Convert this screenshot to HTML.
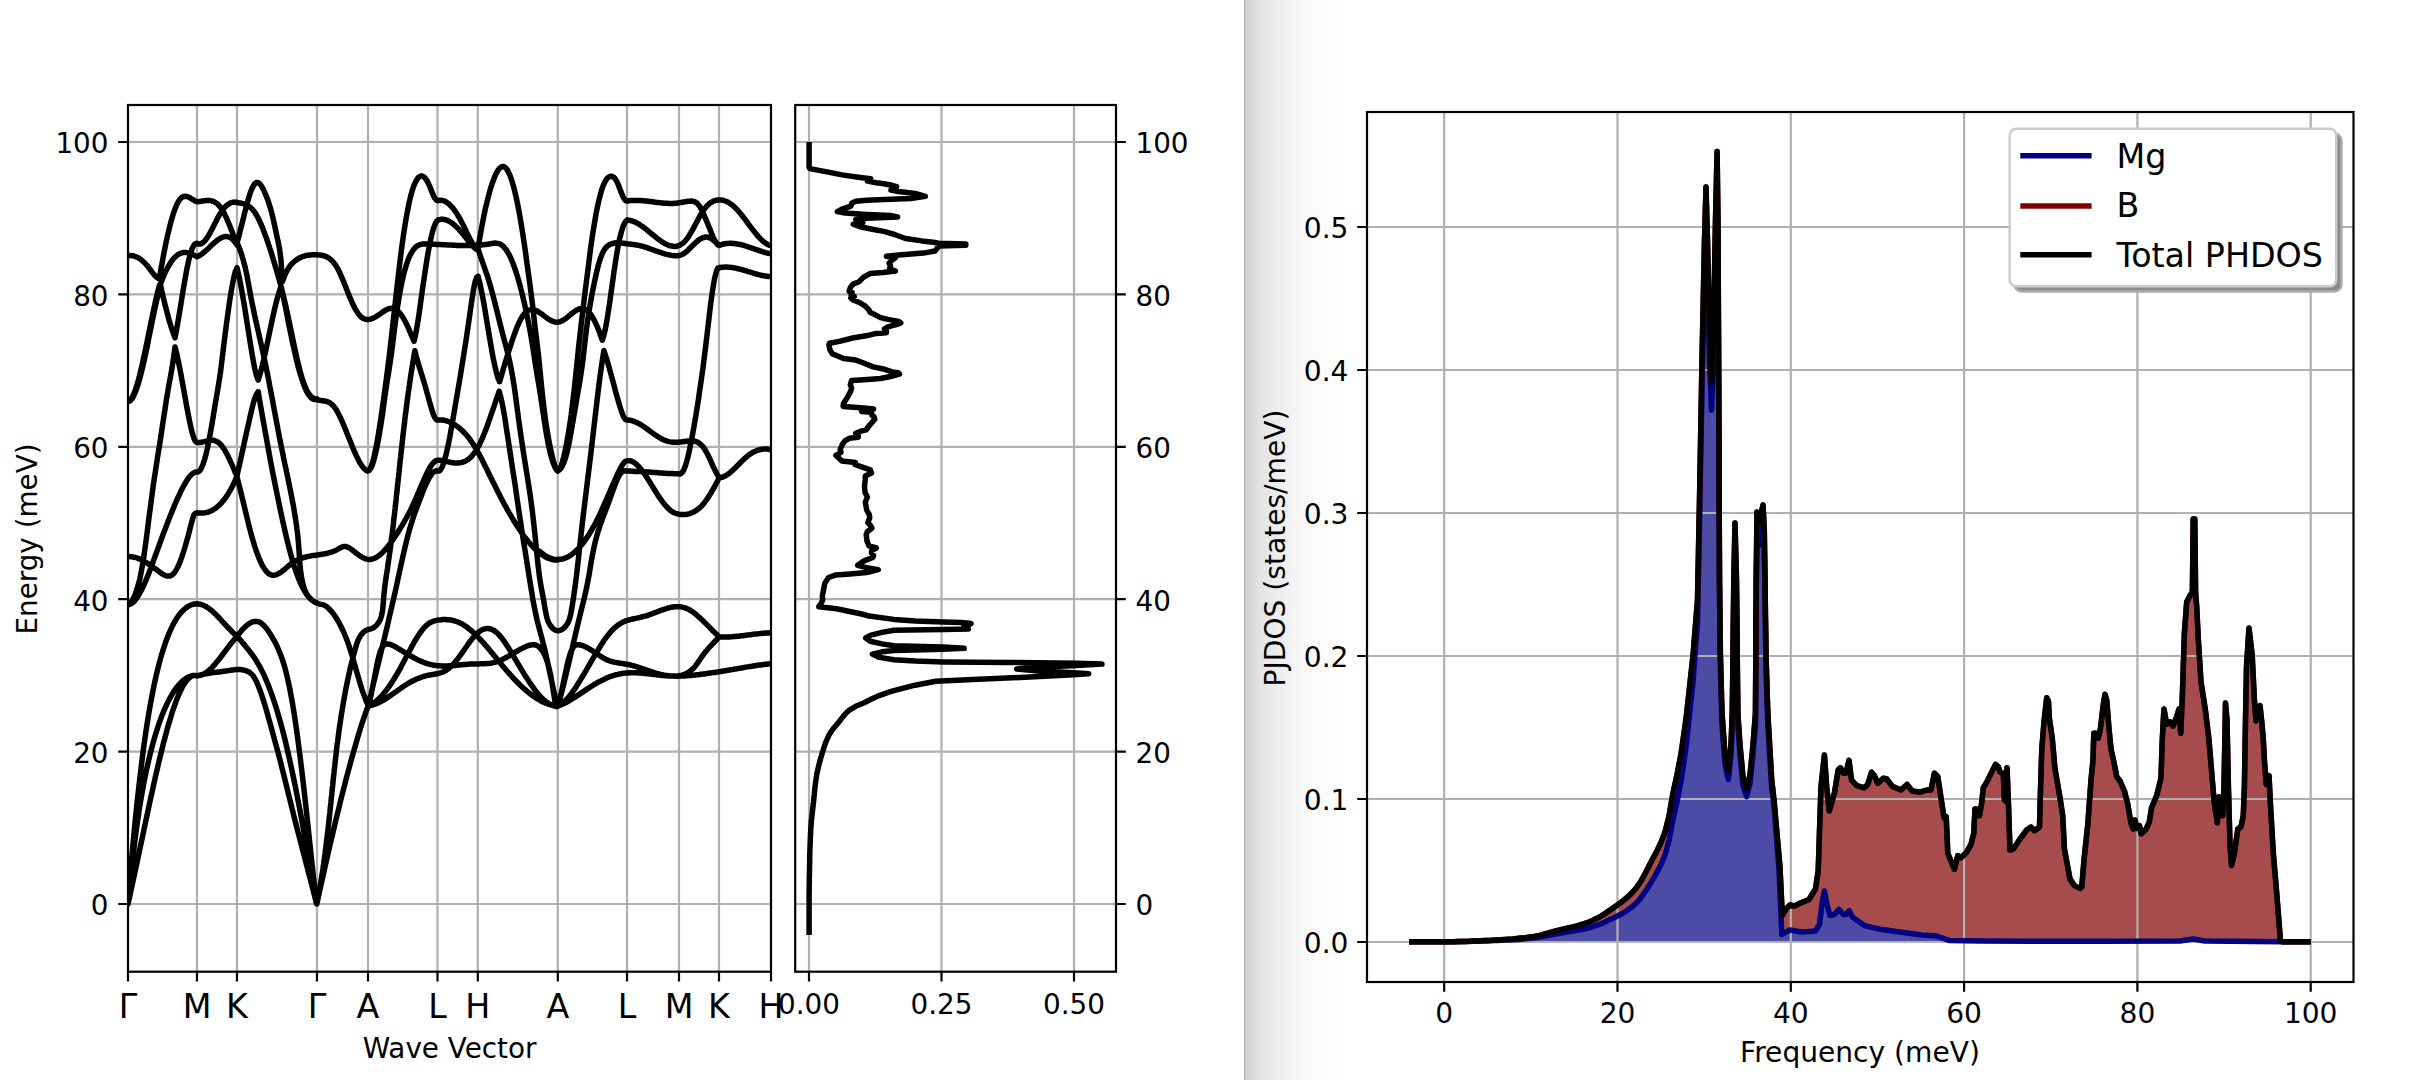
<!DOCTYPE html><html><head><meta charset="utf-8"><title>Phonon bands</title><style>html,body{margin:0;padding:0;background:#fff}body{width:2424px;height:1080px;overflow:hidden}</style></head><body><svg width="2424" height="1080" viewBox="0 0 2424 1080" style="display:block;font-family:'DejaVu Sans','Liberation Sans',sans-serif"><defs><linearGradient id="sh" x1="0" x2="1" y1="0" y2="0"><stop offset="0" stop-color="#9a9a9a"/><stop offset="0.012" stop-color="#cfcfcf"/><stop offset="0.15" stop-color="#e2e2e2"/><stop offset="0.32" stop-color="#ececec"/><stop offset="0.62" stop-color="#f8f8f8"/><stop offset="1" stop-color="#ffffff"/></linearGradient><clipPath id="cl"><rect x="128.0" y="105.0" width="643.0" height="866.7"/></clipPath><clipPath id="cr"><rect x="1367.0" y="112.0" width="986.5" height="870.0"/></clipPath></defs><rect width="2424" height="1080" fill="#fff"/><rect x="1244" y="0" width="97" height="1080" fill="url(#sh)"/><path d="M197,105.0V971.7M237,105.0V971.7M317,105.0V971.7M368,105.0V971.7M437.5,105.0V971.7M477.8,105.0V971.7M557.8,105.0V971.7M627,105.0V971.7M679,105.0V971.7M719,105.0V971.7M128.0,904H771.0M128.0,751.6H771.0M128.0,599.2H771.0M128.0,446.8H771.0M128.0,294.4H771.0M128.0,142H771.0" stroke="#b0b0b0" stroke-width="2.2" fill="none"/><g clip-path="url(#cl)"><path d="M128,255.8L129.5,255.6L131,255.6L132.5,255.7L133.9,256L135.4,256.5L136.9,257.1L138.4,257.9L139.9,258.8L141.4,259.9L142.8,261.2L144.3,262.6L145.8,264.1L147.3,265.8L148.8,267.7L150.3,269.7L151.7,271.7L153.2,273.6L154.7,275.4L156.2,276.9L157.7,278.1L159.2,278.8M159.2,278.8L160.6,270.9L162.1,263L163.5,255.3L165,247.8L166.4,240.8L167.9,234.1L169.4,228L170.8,222.3L172.3,217.1L173.7,212.5L175.2,208.5L176.6,205L178.1,202.1L179.5,199.8L181,198.1L182.4,197L183.9,196.4L185.4,196.3L186.8,196.5L188.3,197L189.7,197.7L191.2,198.6L192.6,199.5L194.1,200.3L195.5,201.1L197,201.7M197,201.7L198.5,201.6L200,201.4L201.4,201.2L202.9,201L204.4,200.8L205.9,200.6L207.4,200.5L208.9,200.5L210.3,200.6L211.8,200.9L213.3,201.4L214.8,202.1L216.3,203L217.7,204.2L219.2,205.7L220.7,207.5L222.2,209.7L223.7,212.3L225.1,215.2L226.6,218.4L228.1,221.8L229.6,225.4L231.1,229.2L232.6,233.1L234,237L235.5,241L237,245M127.9,401.2L129.3,400.8L130.8,399.5L132.2,397.3L133.6,394.3L135.1,390.7L136.5,386.4L138,381.5L139.4,376.1L140.8,370.3L142.3,364.2L143.7,357.7L145.2,350.9L146.6,344L148,337L149.5,329.9L150.9,322.9L152.4,315.9L153.8,309.1L155.2,302.5L156.7,296.2L158.1,290.3L159.6,284.7M160,285.3L161.5,281.3L163,277.6L164.4,274.2L165.9,271L167.4,268.1L168.9,265.4L170.4,263L171.8,260.8L173.3,258.9L174.8,257.3L176.3,255.9L177.8,254.8L179.2,253.9L180.7,253.2L182.2,252.8L183.7,252.6L185.2,252.5L186.6,252.6L188.1,252.9L189.6,253.3L191.1,253.8L192.6,254.4L194,255.1L195.5,255.9L197,256.7M197,256.7L198.5,256L200,255.2L201.4,254.3L202.9,253.2L204.4,252L205.9,250.7L207.4,249.3L208.9,247.9L210.3,246.5L211.8,245.1L213.3,243.7L214.8,242.4L216.3,241.1L217.7,240L219.2,239L220.7,238.1L222.2,237.4L223.7,236.9L225.1,236.6L226.6,236.6L228.1,236.8L229.6,237.3L231.1,238.1L232.6,239.3L234,240.8L235.5,242.7L237,245M127.9,401.2L129.4,401.1L130.9,400.1L132.4,398.2L133.8,395.6L135.3,392.2L136.8,388.1L138.3,383.4L139.8,378.2L141.3,372.5L142.8,366.3L144.3,359.8L145.8,353L147.3,345.9L148.7,338.6L150.2,331.2L151.7,323.8L153.2,316.5L154.7,309.4L156.2,302.5L157.7,295.9L159.2,290L160.7,285.3M160.8,286.7L162.2,293L163.7,299.1L165.1,304.9L166.5,310.5L167.9,315.8L169.3,320.9L170.8,325.7L172.2,330.1L173.6,334.2L175,337.8M175,337.8L176.5,330.3L177.9,322L179.4,313.3L180.9,304.3L182.3,295.3L183.8,286.4L185.3,277.8L186.7,269.9L188.2,262.7L189.7,256.4L191.1,251.4L192.6,247.6L194.1,245L195.5,243.6L197,243.3M197,243.3L198.5,244L200,244L201.4,243.6L202.9,242.6L204.4,241.3L205.9,239.5L207.4,237.4L208.9,235L210.3,232.4L211.8,229.6L213.3,226.7L214.8,223.7L216.3,220.8L217.7,217.9L219.2,215.2L220.7,212.8L222.2,210.6L223.7,208.6L225.1,206.9L226.6,205.5L228.1,204.3L229.6,203.4L231.1,202.7L232.6,202.3L234,202.1L235.5,202.2L237,202.5M128.1,604.6L129.6,603.8L131.1,602.3L132.5,600.1L134,597.2L135.5,593.6L136.9,589.3L138.4,584.4L139.9,578.6L141.3,571.5L142.8,563L144.3,553.5L145.7,543.1L147.2,532.1L148.6,520.7L150.1,509.3L151.6,498L153,487.3L154.5,477.2L156,467.6L157.4,458.2L158.9,449L160.4,439.6L161.8,430L163.3,420.2L164.8,410.5L166.2,401L167.7,392.1L169.1,383.9L170.6,375.9L172.1,367.6L173.5,358.1L175,347M175,347L176.5,352.7L177.9,359.2L179.4,366.4L180.9,374L182.3,382L183.8,390.2L185.3,398.4L186.7,406.5L188.2,414.3L189.7,421.7L191.1,428.4L192.6,434.2L194.1,438.7L195.5,441.5L197,442.5M197,442.5L198.5,442.6L200,442.5L201.4,442.2L202.9,441.9L204.4,441.6L205.9,441.2L207.4,440.8L208.8,440.5L210.3,440.3L211.8,440.3L213.3,440.3L214.7,440.6L216.2,441.2L217.7,442L219.2,443.1L220.7,444.5L222.1,446.3L223.6,448.4L225.1,450.8L226.6,453.5L228.1,456.3L229.5,459.4L231,462.6L232.5,466L234,469.4L235.4,473L236.9,476.5M128.1,604.6L129.6,604.4L131.1,603.8L132.6,602.8L134.1,601.4L135.6,599.6L137.1,597.6L138.6,595.2L140.1,592.6L141.6,589.7L143.1,586.6L144.6,583.3L146.1,579.8L147.6,576.2L149.1,572.4L150.6,568.5L152.1,564.5L153.6,560.4L155.1,556.3L156.6,552.2L158.1,548.1L159.6,544L161.1,539.9L162.6,535.8L164.1,531.8L165.6,527.9L167.1,523.9L168.6,520.1L170.1,516.3L171.6,512.5L173.1,508.9L174.5,505.3L176,501.9L177.5,498.5L179,495.3L180.5,492.1L182,489.1L183.5,486.3L185,483.6L186.5,481L188,478.8L189.5,476.7L191,475L192.5,473.7L194,472.7L195.5,472.1L197,472M197,472L198.5,471.8L200,470.4L201.4,468L202.9,464.5L204.4,460.1L205.9,454.7L207.4,448.4L208.8,441.3L210.3,433.4L211.8,425L213.3,416.1L214.7,407.2L216.2,398.4L217.7,389.7L219.2,380.6L220.7,370.5L222.1,359L223.6,346.7L225.1,334.6L226.6,323L228.1,312L229.5,301.8L231,292.4L232.5,283.9L234,276.7L235.4,271.3L236.9,268.6M128.1,556.6L129.6,556.6L131.1,556.7L132.6,556.9L134.1,557.2L135.6,557.5L137.1,558L138.6,558.6L140.1,559.2L141.6,560L143.1,560.7L144.6,561.6L146.1,562.5L147.6,563.4L149.1,564.4L150.6,565.4L152.1,566.5L153.6,567.6L155.1,568.7L156.6,569.8L158.1,570.9L159.6,572L161.1,573.1L162.6,574.1L164.1,574.9L165.6,575.6L167.1,576L168.6,576.1L170.1,575.9L171.6,575.2L173.1,574.1L174.5,572.5L176,570.3L177.5,567.5L179,564.3L180.5,560.5L182,556.4L183.5,551.8L185,547L186.5,541.8L188,536.4L189.5,530.7L191,524.9L192.5,519.2L194,514.8L195.5,513.3L197,512.8M197,512.8L198.5,513L200,513.1L201.4,513.1L202.9,513L204.4,512.9L205.9,512.6L207.4,512.3L208.8,511.8L210.3,511.2L211.8,510.6L213.3,509.7L214.7,508.8L216.2,507.7L217.7,506.5L219.2,505.2L220.7,503.7L222.1,502.1L223.6,500.3L225.1,498.4L226.6,496.2L228.1,494L229.5,491.5L231,488.9L232.5,486.1L234,483.1L235.4,479.9L236.9,476.5M128,904L129.5,884.9L131,866.8L132.5,849.6L134,833.3L135.5,818L137,803.4L138.5,789.7L140,776.7L141.5,764.5L142.9,752.9L144.4,742L145.9,731.7L147.4,722L148.9,712.9L150.4,704.3L151.9,696.2L153.4,688.6L154.9,681.4L156.4,674.7L157.9,668.5L159.4,662.6L160.9,657.1L162.4,652L163.9,647.3L165.4,642.8L166.9,638.7L168.4,634.9L169.9,631.4L171.4,628.2L172.8,625.1L174.3,622.4L175.8,619.8L177.3,617.5L178.8,615.4L180.3,613.4L181.8,611.7L183.3,610.2L184.8,608.8L186.3,607.6L187.8,606.6L189.3,605.7L190.8,605L192.3,604.5L193.8,604.1L195.3,603.9L196.8,603.8L198.3,603.9L199.8,604.2L201.3,604.5L202.7,605L204.2,605.7L205.7,606.4L207.2,607.3L208.7,608.4L210.2,609.5L211.7,610.7L213.2,612L214.7,613.4L216.2,614.9L217.7,616.5L219.2,618L220.7,619.6L222.2,621.3L223.7,622.9L225.2,624.5L226.7,626.2L228.2,627.8L229.7,629.3L231.2,630.8L232.6,632.3L234.1,633.7L235.6,635L237.1,636.2M128,904L129.5,888.9L130.9,874.8L132.4,861.5L133.9,849L135.3,837.3L136.8,826.4L138.3,816.2L139.7,806.6L141.2,797.7L142.7,789.3L144.1,781.5L145.6,774.1L147.1,767.2L148.6,760.7L150,754.6L151.5,748.8L153,743.3L154.4,738.1L155.9,733.2L157.4,728.5L158.8,724.1L160.3,720L161.8,716.1L163.2,712.4L164.7,708.9L166.2,705.6L167.6,702.6L169.1,699.7L170.6,697L172,694.5L173.5,692.1L175,689.9L176.4,687.8L177.9,685.9L179.4,684.2L180.9,682.6L182.3,681.2L183.8,680L185.3,678.9L186.7,677.9L188.2,677.1L189.7,676.5L191.1,676L192.6,675.6L194.1,675.5L195.5,675.4L197,675.5M197,675.5L198.5,675.6L200,675.4L201.5,675L202.9,674.4L204.4,673.6L205.9,672.7L207.4,671.6L208.9,670.4L210.4,669.1L211.9,667.6L213.4,666L214.8,664.4L216.3,662.6L217.8,660.8L219.3,658.9L220.8,657L222.3,655L223.8,653L225.2,651.1L226.7,649.1L228.2,647.1L229.7,645.1L231.2,643.2L232.7,641.4L234.2,639.6L235.6,637.8L237.1,636.2M128,904L129.5,897.4L130.9,890.8L132.4,884L133.9,877.2L135.3,870.4L136.8,863.5L138.3,856.5L139.7,849.6L141.2,842.6L142.7,835.7L144.1,828.7L145.6,821.8L147.1,814.9L148.6,808L150,801.2L151.5,794.4L153,787.8L154.4,781.2L155.9,774.7L157.4,768.3L158.8,762.1L160.3,756L161.8,750L163.2,744.2L164.7,738.5L166.2,733L167.6,727.7L169.1,722.6L170.6,717.7L172,713L173.5,708.5L175,704.3L176.4,700.4L177.9,696.7L179.4,693.2L180.9,690.1L182.3,687.2L183.8,684.7L185.3,682.4L186.7,680.5L188.2,678.8L189.7,677.5L191.1,676.5L192.6,675.8L194.1,675.5L195.5,675.6L197,675.9M197,675.9L198.5,675.5L200,675.1L201.5,674.7L203,674.3L204.5,674L206,673.7L207.5,673.5L209,673.2L210.4,673L211.9,672.8L213.4,672.6L214.9,672.4L216.4,672.2L217.9,672L219.4,671.9L220.9,671.7L222.4,671.5L223.9,671.3L225.4,671.1L226.9,670.9L228.4,670.6L229.9,670.4L231.4,670.1L232.9,669.9L234.3,669.8L235.8,669.6L237.3,669.6L238.8,669.5L240.3,669.6L241.8,669.8L243.3,670L244.8,670.4L246.3,670.8L247.8,671.5L249.3,672.3L250.8,673.4L252.3,674.9L253.8,676.8L255.3,679.3L256.8,682.3L258.2,685.7L259.7,689.5L261.2,693.6L262.7,698.1L264.2,702.8L265.7,707.8L267.2,713L268.7,718.4L270.2,723.8L271.7,729.3L273.2,734.8L274.7,740.2L276.2,745.7L277.7,751.3L279.2,756.9L280.7,762.6L282.1,768.4L283.6,774.3L285.1,780.3L286.6,786.4L288.1,792.5L289.6,798.6L291.1,804.7L292.6,810.7L294.1,816.8L295.6,822.7L297.1,828.6L298.6,834.4L300.1,840.1L301.6,845.8L303.1,851.5L304.6,857.2L306,862.8L307.5,868.5L309,874.2L310.5,879.9L312,885.7L313.5,891.6L315,897.5L316.5,903.5M237.2,202.5L238.7,202.8L240.2,203L241.7,203.3L243.2,203.7L244.7,204.1L246.2,204.7L247.7,205.5L249.2,206.4L250.7,207.6L252.2,209.1L253.7,210.9L255.2,213L256.7,215.5L258.2,218.2L259.7,221.3L261.2,224.7L262.7,228.3L264.2,232.2L265.7,236.2L267.2,240.5L268.7,244.9L270.2,249.5L271.7,254.2L273.2,259.1L274.7,264.1L276.2,269.2L277.7,274.4L279.2,279.8L280.7,285.4L282.2,291.2L283.7,297.2L285.2,303.5L286.7,310.1L288.2,317.1L289.7,324.2L291.2,331.4L292.7,338.6L294.2,345.7L295.7,352.6L297.2,359.3L298.7,365.6L300.2,371.5L301.7,376.8L303.2,381.5L304.7,385.7L306.2,389.2L307.7,392L309.2,394.2L310.7,396L312.2,397.3L313.7,398.3L315.2,399.1L316.7,399.6L318.2,400L319.7,400.3L321.2,400.5L322.7,400.7L324.2,400.9L325.7,401.2L327.2,401.6L328.7,402.2L330.2,403.1L331.7,404.2L333.2,405.7L334.7,407.5L336.2,409.7L337.7,412.3L339.2,415.2L340.7,418.3L342.2,421.6L343.7,425.1L345.2,428.7L346.7,432.5L348.2,436.2L349.7,440L351.2,443.8L352.7,447.5L354.2,451L355.7,454.4L357.2,457.6L358.7,460.6L360.2,463.3L361.7,465.6L363.2,467.6L364.7,469.2L366.2,470.4L367.7,471M237.2,242.2L238.7,236.8L240.1,231.1L241.6,225.3L243.1,219.3L244.5,213.4L246,207.7L247.4,202.2L248.9,197.2L250.3,192.7L251.8,188.9L253.3,185.9L254.7,183.7L256.2,182.6L257.6,182.5L259.1,183.3L260.6,184.8L262,187L263.5,189.7L264.9,192.9L266.4,196.4L267.9,200.2L269.3,204.6L270.8,209.4L272.2,214.9L273.7,221.1L275.1,227.9L276.6,234.9L278.1,241.7L279.5,248.6L281,260.1L282.4,281.6M282.4,281.6L283.9,277.5L285.4,273.9L286.9,270.8L288.4,268.3L289.9,266.1L291.4,264.3L292.9,262.8L294.4,261.4L295.9,260.3L297.4,259.2L298.9,258.3L300.4,257.6L301.9,256.9L303.4,256.3L304.9,255.9L306.4,255.5L307.9,255.2L309.4,255L310.8,254.9L312.3,254.8L313.8,254.7L315.3,254.7L316.8,254.8L318.3,254.9L319.8,255L321.3,255.2L322.8,255.5L324.3,255.9L325.8,256.5L327.3,257.2L328.8,258.1L330.3,259.2L331.8,260.6L333.3,262.2L334.8,264.1L336.3,266.3L337.8,268.8L339.3,271.7L340.7,274.8L342.2,278.3L343.7,281.9L345.2,285.6L346.7,289.4L348.2,293.2L349.7,296.9L351.2,300.4L352.7,303.8L354.2,306.9L355.7,309.7L357.2,312.2L358.7,314.3L360.2,316L361.7,317.4L363.2,318.4L364.7,319.1L366.2,319.4L367.7,319.5L369.2,319.4L370.6,319.1L372.1,318.6L373.6,317.9L375.1,317.1L376.6,316.2L378.1,315.3L379.6,314.2L381.1,313.2L382.6,312.1L384.1,311.1L385.6,310.2L387.1,309.4L388.6,308.8L390.1,308.4L391.6,308.3L393.1,308.4L394.6,308.9L396.1,309.6L397.6,310.7L399.1,312.2L400.5,313.9L402,316L403.5,318.4L405,321.1L406.5,324L408,327.2L409.5,330.6L411,334.2L412.5,337.7L414,341.3M237,242.5L238,244.9L239,247.3L239.9,249.8L240.8,252.2L241.6,254.6L242.3,257L243.1,259.5L243.7,261.9L244.4,264.3L245,266.7L245.5,269.2L246.1,271.6L246.6,274L247.1,276.4L247.5,278.9L248,281.3L248.5,283.7L248.9,286.1L249.3,288.6L249.8,291L250.2,293.4L250.7,295.8L251.1,298.2L251.6,300.7L252.1,303.1L252.6,305.5L253.1,307.9L253.6,310.4L254.1,312.8L254.6,315.2L255.1,317.7L255.7,320.1L256.2,322.5L256.8,324.9L257.3,327.4L257.9,329.8L258.4,332.2L259,334.6L259.5,337.1L260.1,339.5L260.6,341.9L261.2,344.4L261.7,346.8L262.2,349.2L262.8,351.7L263.3,354.1L263.8,356.5L264.4,359L264.9,361.4L265.4,363.8L265.9,366.3L266.4,368.7L266.9,371.1L267.4,373.6L267.9,376L268.3,378.4L268.8,380.9L269.3,383.3L269.7,385.8L270.2,388.2L270.7,390.6L271.1,393.1L271.6,395.5L272.1,398L272.5,400.4L273,402.9L273.4,405.3L273.9,407.8L274.3,410.2L274.8,412.6L275.3,415.1L275.7,417.5L276.2,420L276.6,422.4L277.1,424.9L277.6,427.4L278,429.8L278.5,432.3L279,434.7L279.4,437.2L279.9,439.6L280.4,442.1L280.9,444.6L281.4,447L281.9,449.5L282.4,451.9L282.9,454.4L283.4,456.9L283.9,459.3L284.4,461.8L284.9,464.3L285.5,466.7L286,469.2L286.5,471.7L287,474.2L287.6,476.6L288.1,479.1L288.6,481.6L289.1,484.1L289.6,486.5L290.1,489L290.6,491.5L291.1,494L291.6,496.5L292.1,499L292.5,501.4L293,503.9L293.5,506.4L293.9,508.9L294.3,511.4L294.7,513.9L295.1,516.4L295.5,518.9L295.9,521.4L296.3,523.9L296.6,526.4L296.9,528.9L297.3,531.4L297.6,533.9L297.8,536.4L298.1,538.9L298.3,541.4L298.5,543.9L298.7,546.5L298.9,549L299.1,551.5L299.2,554L299.4,556.5L299.6,559L299.7,561.5L299.9,563.9L300.1,566.4L300.4,568.8L300.6,571.2L301,573.6L301.3,576L301.7,578.3L302.2,580.6L302.7,582.9L303.2,585.1L303.9,587.3L304.6,589.5L305.5,591.6L306.6,593.7L307.9,595.7L309.6,597.7L311.6,599.7L314,601.5L316.6,603L319,603.8L321.3,604.4L323.5,604.9L325.5,605.9L327.4,607.3L329.2,609L330.9,610.8L332.5,612.7L334.1,614.8L335.5,616.9L336.9,619L338.2,621.2L339.4,623.5L340.6,625.7L341.7,628L342.8,630.2L343.8,632.5L344.8,634.8L345.8,637.2L346.7,639.5L347.6,641.8L348.4,644.2L349.2,646.5L350,648.9L350.8,651.3L351.5,653.6L352.2,656L352.9,658.4L353.6,660.8L354.3,663.2L355,665.6L355.7,668L356.3,670.4L357,672.8L357.7,675.2L358.4,677.6L359.1,680L359.8,682.4L360.5,684.8L361.3,687.2L362,689.5L362.8,691.9L363.7,694.3L364.5,696.6L365.4,698.9L366.3,701.3L367.3,703.6L368.3,705.9M237,267.7L238.4,273.3L239.8,279.9L241.2,287.4L242.6,295.4L244.1,304L245.5,312.8L246.9,321.7L248.3,330.6L249.7,339.4L251.1,348.1L252.5,356.5L253.9,364.3L255.3,371.1L256.8,376.4L258.2,380M258.2,380L259.7,375.3L261.2,369.9L262.7,364L264.2,357.6L265.7,350.8L267.2,343.7L268.7,336.5L270.2,329.3L271.7,322.2L273.2,315.3L274.7,308.7L276.2,302.5L277.7,296.8L279.2,291.8L280.7,287.5M281.3,287.1L282.8,294.3L284.3,301.6L285.8,309L287.3,316.5L288.7,323.9L290.2,331.2L291.7,338.4L293.2,345.3L294.7,352.1L296.1,358.5L297.6,364.5L299.1,370.1L300.6,375.2L302.1,379.9L303.6,384.1L305,387.9L306.5,391.1L308,393.8L309.5,396L311,397.7L312.4,398.8L313.9,399.4L315.4,399.4L316.9,398.9M236.9,476.5L238.3,469.9L239.8,463.4L241.2,456.9L242.6,450.4L244,444L245.4,437.6L246.8,431.2L248.3,424.8L249.7,418.4L251.1,412.2L252.5,406.4L253.9,401.2L255.3,396.9L256.8,393.7L258.2,391.8M258.2,391.8L259.7,400.6L261.2,409.3L262.7,417.9L264.2,426.3L265.7,434.6L267.2,442.8L268.7,450.9L270.1,458.8L271.6,466.7L273.1,474.4L274.6,482L276.1,489.4L277.6,496.8L279.1,504L280.6,511.2L282.1,518.1L283.6,524.9L285.1,531.6L286.6,538L288.1,544.1L289.6,550L291.1,555.6L292.6,560.9L294.1,565.9L295.6,570.5L297.1,574.7L298.6,578.7L300.1,582.3L301.6,585.6L303.1,588.5L304.6,591.2L306.1,593.6L307.6,595.7L309.1,597.5L310.6,599L312.1,600.3L313.6,601.3L315.1,602.1L316.6,602.6M236.9,476.5L238.4,482.4L239.9,488.4L241.4,494.5L242.9,500.7L244.4,506.9L245.9,513.1L247.4,519.2L248.8,525.1L250.3,530.9L251.8,536.4L253.3,541.6L254.8,546.5L256.3,551L257.8,555.1L259.3,558.9L260.8,562.3L262.2,565.2L263.7,567.8L265.2,570L266.7,571.8L268.2,573.2L269.7,574.3L271.2,574.9L272.7,575.2L274.2,575.2L275.6,574.9L277.1,574.4L278.6,573.6L280.1,572.7L281.6,571.7L283.1,570.5L284.6,569.3L286.1,568L287.6,566.7L289,565.5L290.5,564.3L292,563.2L293.5,562.2L295,561.3L296.5,560.4L298,559.7L299.5,559.1L301,558.5L302.5,557.9L303.9,557.5L305.4,557.1L306.9,556.7L308.4,556.4L309.9,556.1L311.4,555.8L312.9,555.6L314.4,555.4L315.9,555.2L317.3,555L318.8,554.8L320.3,554.5L321.8,554.3L323.3,554.1L324.8,553.8L326.3,553.5L327.8,553.1L329.3,552.7L330.7,552.3L332.2,551.8L333.7,551.2L335.2,550.6L336.7,549.9L338.2,549.1L339.7,548.3L341.2,547.4L342.7,546.8L344.1,546.4L345.6,546.5L347.1,546.9L348.6,547.6L350.1,548.5L351.6,549.5L353.1,550.7L354.6,551.8L356.1,553L357.6,554.1L359,555.2L360.5,556.2L362,557.1L363.5,557.9L365,558.6L366.5,559.1L368,559.4L369.5,559.5L371,559.4L372.4,559L373.9,558.5L375.4,557.9L376.9,557L378.4,556L379.9,554.9L381.4,553.6L382.9,552.2L384.4,550.6L385.8,548.9L387.3,547.2L388.8,545.3L390.3,543.3L391.8,541.3L393.3,539.1L394.8,536.9L396.3,534.7L397.8,532.4L399.2,530L400.7,527.6L402.2,525.2L403.7,522.6L405.2,520L406.7,517.4L408.2,514.6L409.7,511.7L411.2,508.8L412.6,505.7L414.1,502.5L415.6,499.1L417.1,495.7L418.6,492.2L420.1,488.6L421.6,485L423.1,481.5L424.6,478.1L426.1,474.9L427.5,471.8L429,469L430.5,466.5L432,464.3L433.5,462.6L435,461.3L436.5,460.5L438,460.2M237.1,636.2L238.6,638L240.1,639.8L241.6,641.6L243.1,643.4L244.6,645.1L246.1,646.9L247.6,648.7L249.1,650.6L250.6,652.6L252.1,654.6L253.6,656.7L255.1,658.9L256.6,661.3L258.1,663.8L259.6,666.4L261.1,669.2L262.6,672.2L264.1,675.4L265.6,678.8L267.1,682.3L268.6,686.1L270.1,690L271.6,694.1L273.1,698.4L274.6,702.9L276.1,707.6L277.6,712.5L279.1,717.6L280.6,722.9L282.1,728.4L283.6,734.2L285.1,740.1L286.5,746.2L288,752.6L289.5,759.2L291,766L292.5,772.9L294,780.1L295.5,787.4L297,795L298.5,802.7L300,810.6L301.5,818.6L303,826.9L304.5,835.3L306,843.8L307.5,852.5L309,861.3L310.5,870.2L312,879L313.5,887.5L315,895.7L316.5,903.5M237.1,636.2L238.6,634.2L240.1,632.4L241.6,630.6L243.1,628.9L244.6,627.4L246.1,626L247.6,624.7L249.1,623.7L250.6,622.8L252.1,622.1L253.6,621.6L255.1,621.4L256.6,621.4L258.1,621.7L259.6,622.2L261.1,623.1L262.6,624.2L264.1,625.7L265.6,627.4L267.1,629.3L268.6,631.5L270.1,633.8L271.6,636.2L273.1,638.8L274.6,641.4L276.1,644.3L277.6,647.5L279.1,650.9L280.6,654.7L282.1,658.9L283.6,663.4L285.1,668.5L286.5,674.1L288,680.4L289.5,687.4L291,695.1L292.5,703.5L294,712.7L295.5,722.6L297,733.1L298.5,744.3L300,755.9L301.5,768.2L303,780.8L304.5,794L306,807.5L307.5,821.4L309,835.5L310.5,849.7L312,863.7L313.5,877.5L315,890.8L316.5,903.5M316.8,904L317.3,901.5L317.8,899L318.3,896.5L318.7,894L319.2,891.5L319.6,889L320.1,886.5L320.5,884L320.9,881.5L321.3,879L321.7,876.5L322.1,874L322.5,871.6L322.9,869.1L323.2,866.6L323.6,864.1L323.9,861.6L324.3,859.2L324.6,856.7L325,854.2L325.3,851.7L325.6,849.3L325.9,846.8L326.2,844.3L326.5,841.8L326.8,839.4L327.1,836.9L327.4,834.4L327.7,832L328,829.5L328.3,827.1L328.5,824.6L328.8,822.1L329.1,819.7L329.3,817.2L329.6,814.7L329.9,812.3L330.1,809.8L330.4,807.4L330.6,804.9L330.9,802.5L331.1,800L331.4,797.5L331.7,795.1L331.9,792.6L332.2,790.2L332.4,787.7L332.7,785.3L332.9,782.8L333.2,780.4L333.4,777.9L333.7,775.5L334,773L334.2,770.5L334.5,768.1L334.8,765.6L335,763.2L335.3,760.7L335.6,758.3L335.9,755.8L336.2,753.4L336.4,750.9L336.7,748.5L337,746L337.3,743.5L337.7,741.1L338,738.6L338.3,736.2L338.6,733.7L339,731.3L339.3,728.8L339.6,726.3L340,723.9L340.4,721.4L340.7,719L341.1,716.5L341.5,714L341.9,711.6L342.3,709.1L342.7,706.6L343.1,704.2L343.5,701.7L344,699.2L344.4,696.8L344.9,694.3L345.3,691.8L345.8,689.4L346.3,686.9L346.8,684.4L347.3,681.9L347.8,679.4L348.4,677L348.9,674.5L349.5,672L350,669.5L350.6,667L351.2,664.5L351.8,662.1L352.4,659.6L353.1,657.1L353.7,654.6L354.4,652.1L355.1,649.6L355.8,647.1L356.5,644.7L357.3,642.3L358.2,640L359.3,637.9L360.4,635.9L361.7,634.1L363.2,632.5L364.8,631.2L366.7,630.1L368.8,629.4L371.1,628.8L373.4,627.8L375.6,626.1L377.5,624L379.2,621.7L380.4,619.3L381.2,616.9L381.8,614.5L382.3,612.2L382.6,609.8L382.9,607.4L383.1,605L383.3,602.6L383.5,600.2L383.7,597.7L383.9,595.3L384.1,592.9L384.4,590.5L384.6,588L384.9,585.6L385.3,583.2L385.6,580.7L386,578.3L386.3,575.8L386.7,573.4L387.1,570.9L387.5,568.4L387.8,566L388.2,563.5L388.5,561.1L388.9,558.6L389.2,556.1L389.6,553.6L389.9,551.1L390.3,548.7L390.6,546.2L390.9,543.7L391.2,541.2L391.5,538.7L391.8,536.2L392.2,533.7L392.5,531.3L392.8,528.8L393.1,526.3L393.4,523.8L393.6,521.3L393.9,518.8L394.2,516.3L394.5,513.8L394.8,511.3L395.1,508.8L395.3,506.3L395.6,503.8L395.9,501.3L396.2,498.8L396.4,496.3L396.7,493.9L397,491.4L397.2,488.9L397.5,486.4L397.8,483.9L398,481.4L398.3,478.9L398.6,476.5L398.8,474L399.1,471.5L399.3,469L399.6,466.5L399.9,464.1L400.1,461.6L400.4,459.1L400.7,456.6L400.9,454.2L401.2,451.7L401.5,449.2L401.7,446.8L402,444.3L402.3,441.8L402.6,439.4L402.8,436.9L403.1,434.4L403.4,432L403.7,429.5L404,427L404.3,424.6L404.6,422.1L404.8,419.7L405.1,417.2L405.4,414.7L405.8,412.3L406.1,409.8L406.4,407.4L406.7,404.9L407,402.4L407.3,400L407.7,397.5L408,395L408.3,392.6L408.7,390.1L409,387.7L409.4,385.2L409.7,382.7L410.1,380.3L410.5,377.8L410.8,375.3L411.2,372.9L411.6,370.4L412,368L412.4,365.5L412.8,363L413.2,360.5L413.6,358.1L414,355.6L414.5,353.1L414.9,350.7M414.9,350.7L416.3,356.5L417.8,361.8L419.2,366.7L420.7,371.3L422.1,375.8L423.5,380.5L425,385.4L426.4,390.6L427.9,395.8L429.3,401L430.8,406.1L432.2,410.9L433.6,415L435.1,418.1L436.5,419.9L438,420.1M438,420.1L439.5,420L441,419.9L442.5,420L444,420.3L445.5,420.6L446.9,421L448.4,421.5L449.9,422.1L451.4,422.8L452.9,423.6L454.4,424.5L455.9,425.5L457.4,426.6L458.9,427.7L460.4,429L461.9,430.3L463.4,431.8L464.9,433.3L466.4,435L467.9,436.8L469.4,438.7L470.9,440.8L472.4,443L473.9,445.3L475.4,447.7L476.9,450.3L478.4,452.9L479.9,455.7L481.4,458.6L482.9,461.5L484.4,464.5L485.9,467.6L487.4,470.6L488.9,473.7L490.4,476.8L491.9,479.8L493.4,482.8L494.9,485.8L496.4,488.8L497.9,491.7L499.4,494.7L500.8,497.5L502.3,500.4L503.8,503.2L505.3,505.9L506.8,508.6L508.3,511.3L509.8,513.9L511.3,516.5L512.8,519L514.3,521.5L515.8,523.9L517.3,526.3L518.8,528.5L520.3,530.8L521.8,532.9L523.3,535.1L524.8,537.1L526.3,539L527.8,540.9L529.3,542.8L530.8,544.5L532.3,546.1L533.8,547.7L535.3,549.2L536.8,550.6L538.3,551.9L539.8,553.2L541.3,554.3L542.8,555.3L544.3,556.3L545.8,557.1L547.3,557.9L548.8,558.5L550.3,559L551.8,559.5L553.3,559.8L554.8,560L556.2,560.1L557.7,560M316.8,904L318.3,897.3L319.7,890.6L321.2,883.9L322.7,877.3L324.2,870.7L325.6,864.2L327.1,857.7L328.6,851.2L330,844.9L331.5,838.5L333,832.3L334.5,826L335.9,819.9L337.4,813.8L338.9,807.8L340.3,801.8L341.8,795.9L343.3,790.1L344.8,784.4L346.2,778.7L347.7,773.1L349.2,767.6L350.6,762.2L352.1,756.8L353.6,751.6L355.1,746.4L356.5,741.4L358,736.4L359.5,731.5L360.9,726.8L362.4,722.2L363.9,717.8L365.4,713.5L366.8,709.6L368.3,705.9M367.7,471L369.2,470L370.7,467.4L372.2,463.5L373.7,458.2L375.1,451.8L376.6,444.4L378.1,436L379.6,426.8L381.1,417L382.6,406.5L384.1,395.7L385.6,384.5L387.1,373L388.6,361.3L390.1,349L391.5,336.2L393,323L394.5,309.6L396,296.1L397.5,282.8L399,269.8L400.5,257.3L402,245.7L403.5,234.9L405,225.1L406.5,216.3L408,208.4L409.4,201.4L410.9,195.3L412.4,190.1L413.9,185.7L415.4,182.2L416.9,179.5L418.4,177.5L419.9,176.3L421.4,175.9L422.9,176.2L424.4,177.2L425.8,178.9L427.3,181.3L428.8,184.3L430.3,187.9L431.8,191.6L433.3,195.2L434.8,198.2L436.3,200.2L437.8,200.7M437.8,200.7L439.3,200.3L440.8,200.2L442.3,200.4L443.8,200.8L445.2,201.4L446.7,202.3L448.2,203.4L449.7,204.7L451.2,206.2L452.7,207.9L454.2,209.9L455.7,212L457.2,214.3L458.7,216.7L460.2,219.4L461.7,222.2L463.2,225.1L464.7,228.1L466.1,231.2L467.6,234.3L469.1,237.3L470.6,240.2L472.1,242.9L473.6,245.3L475.1,247.3L476.6,249L478.1,250.2M367.7,471L369.2,470.4L370.7,468.4L372.2,465.1L373.7,460.6L375.2,454.9L376.7,448.2L378.2,440.5L379.7,432L381.2,422.7L382.7,412.8L384.1,402.3L385.6,391.7L387.1,381.6L388.6,372.3L390.1,362.9L391.6,352.3L393.1,340.4L394.6,328.2L396.1,316.7L397.6,306.3L399.1,297L400.6,288.7L402.1,281.4L403.6,274.9L405.1,269.1L406.6,264.2L408.1,259.9L409.6,256.3L411.1,253.3L412.6,250.8L414.1,248.8L415.6,247.2L417.1,246L418.6,245.2L420.1,244.6L421.6,244.2L423.1,244L424.6,243.9L426.1,243.9L427.5,244L429,244L430.5,244.1L432,244.1L433.5,244.2L435,244.3L436.5,244.4L438,244.4L439.5,244.5L441,244.6L442.5,244.7L444,244.7L445.5,244.8L447,244.9L448.5,245L450,245L451.5,245.1L453,245.2L454.5,245.2L456,245.3L457.5,245.4L459,245.4L460.5,245.4L462,245.5L463.5,245.5L465,245.5L466.5,245.5L468,245.5L469.4,245.5L470.9,245.5L472.4,245.5L473.9,245.4L475.4,245.3L476.9,245.3L478.4,245.2L479.9,245.1L481.4,244.9L482.9,244.8L484.4,244.6L485.9,244.4L487.4,244.2L488.9,244L490.4,243.7L491.9,243.5L493.4,243.2L494.9,243.1L496.4,243.2L497.9,243.4L499.4,243.8L500.9,244.5L502.4,245.6L503.9,246.9L505.4,248.7L506.9,250.8L508.4,253.3L509.9,256.2L511.4,259.4L512.8,263L514.3,267L515.8,271.3L517.3,276L518.8,281.1L520.3,286.6L521.8,292.4L523.3,298.5L524.8,305.1L526.3,312L527.8,319.2L529.3,326.9L530.8,335.1L532.3,344.1L533.8,353.8L535.3,363.6L536.8,373L538.3,381.9L539.8,390.8L541.3,400.5L542.8,410.7L544.3,420.9L545.8,430.4L547.3,439.1L548.8,446.7L550.3,453.2L551.8,458.8L553.3,463.3L554.8,466.9L556.2,469.5L557.7,471M414,341.3L415.4,335.6L416.8,328L418.3,319L419.7,309.3L421.1,299.2L422.5,289.1L424,279.2L425.4,269.6L426.8,260.5L428.2,252L429.7,244.3L431.1,237.5L432.5,231.7L433.9,227L435.4,223.5L436.8,221.1L438.2,220M438.2,220L439.7,219.6L441.2,219.3L442.7,219.3L444.1,219.5L445.6,219.8L447.1,220.3L448.6,221L450,221.8L451.5,222.8L453,223.9L454.5,225.1L455.9,226.4L457.4,227.9L458.9,229.4L460.4,231.1L461.9,232.8L463.3,234.6L464.8,236.4L466.3,238.3L467.8,240.2L469.2,242.1L470.7,243.9L472.2,245.5L473.7,247L475.1,248.4L476.6,249.4L478.1,250.2M438,460.2L439.5,460.3L440.9,460.5L442.4,460.7L443.9,461L445.4,461.3L446.9,461.6L448.4,461.9L449.9,462.2L451.4,462.5L452.9,462.7L454.4,462.9L455.9,463L457.3,463L458.8,462.9L460.3,462.8L461.8,462.4L463.3,462L464.8,461.4L466.3,460.6L467.8,459.7L469.3,458.5L470.8,457.2L472.2,455.6L473.7,453.8L475.2,451.7L476.7,449.4L478.2,446.8L479.7,443.9L481.2,440.8L482.7,437.4L484.2,433.8L485.7,430L487.2,426L488.6,421.9L490.1,417.7L491.6,413.4L493.1,409L494.6,404.6L496.1,400.2L497.6,395.8L499.1,391.4M499.1,391.4L500.5,396.1L502,402.5L503.5,410.2L505,418.9L506.4,428.3L507.9,438.1L509.4,447.9L510.9,457.5L512.3,467L513.8,476.5L515.3,486.2L516.7,496.2L518.2,506.3L519.7,516.3L521.2,526.2L522.6,535.6L524.1,544.8L525.6,553.9L527,563L528.5,572.3L530,581.8L531.5,591L532.9,599.8L534.4,607.6L535.9,614.6L537.3,620.9L538.8,626.8L540.3,632.4L541.8,637.9L543.2,643.6L544.7,649.5L546.2,655.7L547.6,662.4L549.1,669.3L550.6,676.3L552.1,683.2L553.5,689.8L555,695.9L556.5,701.4L557.9,706.1M368.3,705.9L369.8,699.4L371.3,693.1L372.7,686.7L374.2,680.5L375.7,674.3L377.2,668.1L378.7,661.9L380.2,655.8L381.6,649.6L383.1,643.4L384.6,637.3L386.1,631L387.6,624.8L389,618.5L390.5,612.2L392,605.7L393.5,599.2L395,592.7L396.5,586L397.9,579.2L399.4,572.3L400.9,565.4L402.4,558.6L403.9,552L405.4,545.7L406.8,539.7L408.3,534L409.8,528.6L411.3,523.6L412.8,519L414.2,514.6L415.7,510.5L417.2,506.5L418.7,502.6L420.2,498.7L421.7,494.9L423.1,491.1L424.6,487.5L426.1,484.1L427.6,481L429.1,478.1L430.6,475.7L432,473.7L433.5,472.1L435,471.1L436.5,470.8L438,471M438,471L439.5,470.9L440.9,469.3L442.4,466.4L443.9,462.3L445.4,457.1L446.9,451L448.4,444.1L449.9,436.5L451.3,428.4L452.8,419.9L454.3,411.2L455.8,402.4L457.3,393.6L458.8,384.9L460.3,376.1L461.7,367.2L463.2,358.1L464.7,348.8L466.2,339.1L467.7,329.1L469.2,318.6L470.7,307.9L472.2,297.8L473.6,288.8L475.1,281.9L476.6,277.5L478.1,276.3M478,276.4L479.5,281.7L480.9,288.1L482.3,295.2L483.8,303L485.2,311.3L486.6,319.9L488.1,328.7L489.5,337.3L491,345.8L492.4,353.8L493.8,361.2L495.3,367.9L496.7,373.7L498.1,378.3L499.6,381.7M499.6,381.7L501.1,376.8L502.5,371.8L504,366.8L505.5,361.9L507,356.9L508.5,352L510,347.3L511.5,342.7L513,338.2L514.5,334L515.9,330L517.4,326.3L518.9,322.9L520.4,319.8L521.9,317.1L523.4,314.9L524.9,313L526.4,311.6L527.9,310.6L529.4,309.9L530.8,309.6L532.3,309.6L533.8,309.8L535.3,310.3L536.8,310.9L538.3,311.7L539.8,312.7L541.3,313.7L542.8,314.8L544.2,316L545.7,317.1L547.2,318.2L548.7,319.2L550.2,320.1L551.7,320.9L553.2,321.5L554.7,321.9L556.2,322.2L557.7,322.2L559.1,321.9L560.6,321.5L562.1,320.8L563.6,319.9L565.1,319L566.6,317.9L568.1,316.7L569.6,315.4L571.1,314.2L572.5,313L574,311.8L575.5,310.8L577,309.9L578.5,309.2L580,308.7L581.5,308.5L583,308.6L584.5,309L585.9,309.7L587.4,310.8L588.9,312.3L590.4,314.1L591.9,316.2L593.4,318.7L594.9,321.6L596.4,324.8L597.9,328.2L599.4,332L600.8,336L602.3,340.2M368.3,705.9L369.8,700.6L371.3,694L372.8,686.5L374.3,678.5L375.8,670.5L377.3,662.9L378.8,656.4L380.2,651.5L381.7,648.2L383.2,645.9L384.7,644.6L386.2,644L387.7,643.9L389.2,644.2L390.7,644.6L392.2,645.2L393.7,645.9L395.2,646.7L396.7,647.6L398.2,648.5L399.7,649.4L401.2,650.3L402.6,651.2L404.1,652.1L405.6,653L407.1,653.9L408.6,654.7L410.1,655.6L411.6,656.5L413.1,657.3L414.6,658.1L416.1,658.9L417.6,659.7L419.1,660.4L420.6,661.1L422.1,661.7L423.5,662.3L425,662.9L426.5,663.4L428,663.9L429.5,664.3L431,664.6L432.5,664.9L434,665.2L435.5,665.4L437,665.6L438.5,665.7L440,665.8L441.5,665.9L443,665.9L444.5,665.9L445.9,665.9L447.4,665.9L448.9,665.8L450.4,665.7L451.9,665.6L453.4,665.5L454.9,665.4L456.4,665.2L457.9,665.1L459.4,665L460.9,664.8L462.4,664.7L463.9,664.5L465.4,664.4L466.9,664.3L468.3,664.2L469.8,664.1L471.3,664L472.8,663.9L474.3,663.9L475.8,663.9L477.3,663.9L478.8,663.9L480.3,663.8L481.8,663.8L483.3,663.8L484.8,663.7L486.3,663.6L487.8,663.5L489.3,663.4L490.7,663.2L492.2,662.9L493.7,662.6L495.2,662.2L496.7,661.8L498.2,661.3L499.7,660.7L501.2,660.1L502.7,659.3L504.2,658.6L505.7,657.8L507.2,657L508.7,656.1L510.2,655.2L511.7,654.4L513.1,653.5L514.6,652.6L516.1,651.7L517.6,650.8L519.1,650L520.6,649.1L522.1,648.4L523.6,647.6L525.1,646.9L526.6,646.3L528.1,645.7L529.6,645.2L531.1,644.9L532.6,644.7L534.1,644.7L535.5,645L537,645.6L538.5,646.5L540,647.9L541.5,649.6L543,651.8L544.5,654.6L546,658.1L547.5,662.5L549,667.9L550.5,674.6L552,682.8L553.5,692.3L555,701.2L556.5,706.7L557.9,706.1M368.3,705.9L369.8,705.3L371.3,704.5L372.8,703.6L374.3,702.6L375.8,701.5L377.3,700.2L378.8,698.9L380.2,697.4L381.7,695.8L383.2,694.1L384.7,692.3L386.2,690.4L387.7,688.4L389.2,686.3L390.7,684.1L392.2,681.8L393.7,679.5L395.2,677L396.7,674.5L398.2,672L399.7,669.3L401.2,666.6L402.6,663.8L404.1,661L405.6,658.2L407.1,655.3L408.6,652.5L410.1,649.7L411.6,646.9L413.1,644.2L414.6,641.5L416.1,639L417.6,636.6L419.1,634.3L420.6,632.1L422.1,630.1L423.5,628.3L425,626.7L426.5,625.3L428,624L429.5,623L431,622.2L432.5,621.5L434,621L435.5,620.6L437,620.3L438.5,620.1L440,619.9L441.5,619.7L443,619.6L444.5,619.6L445.9,619.6L447.4,619.7L448.9,619.8L450.4,620L451.9,620.2L453.4,620.6L454.9,621L456.4,621.5L457.9,622L459.4,622.7L460.9,623.4L462.4,624.2L463.9,625.1L465.4,626.1L466.9,627.1L468.3,628.3L469.8,629.5L471.3,630.7L472.8,632.1L474.3,633.4L475.8,634.9L477.3,636.4L478.8,637.9L480.3,639.5L481.8,641.1L483.3,642.7L484.8,644.4L486.3,646.1L487.8,647.9L489.3,649.6L490.7,651.4L492.2,653.2L493.7,655L495.2,656.8L496.7,658.7L498.2,660.5L499.7,662.3L501.2,664.1L502.7,665.9L504.2,667.7L505.7,669.4L507.2,671.2L508.7,672.9L510.2,674.6L511.7,676.2L513.1,677.9L514.6,679.5L516.1,681L517.6,682.5L519.1,684L520.6,685.5L522.1,686.9L523.6,688.3L525.1,689.6L526.6,690.9L528.1,692.1L529.6,693.3L531.1,694.5L532.6,695.6L534.1,696.6L535.5,697.6L537,698.6L538.5,699.5L540,700.4L541.5,701.2L543,701.9L544.5,702.6L546,703.2L547.5,703.8L549,704.3L550.5,704.8L552,705.2L553.5,705.5L555,705.7L556.5,705.9L557.9,706.1M368.3,705.9L369.8,705.7L371.3,705.4L372.8,705L374.3,704.5L375.8,704L377.3,703.3L378.8,702.7L380.2,701.9L381.7,701.1L383.2,700.3L384.7,699.4L386.2,698.4L387.7,697.4L389.2,696.4L390.7,695.4L392.2,694.4L393.7,693.3L395.2,692.2L396.7,691.2L398.2,690.1L399.7,689L401.2,688L402.6,687L404.1,686L405.6,685L407.1,684.1L408.6,683.2L410.1,682.3L411.6,681.5L413.1,680.7L414.6,680L416.1,679.3L417.6,678.7L419.1,678.1L420.6,677.5L422.1,677L423.5,676.5L425,676.1L426.5,675.7L428,675.3L429.5,675L431,674.8L432.5,674.5L434,674.3L435.5,674L437,673.7L438.5,673.4L440,673L441.5,672.5L443,671.9L444.5,671.2L445.9,670.4L447.4,669.4L448.9,668.3L450.4,667L451.9,665.6L453.4,664L454.9,662.3L456.4,660.5L457.9,658.6L459.4,656.5L460.9,654.5L462.4,652.4L463.9,650.2L465.4,648.1L466.9,646L468.3,643.9L469.8,641.8L471.3,639.9L472.8,638L474.3,636.3L475.8,634.7L477.3,633.2L478.8,632L480.3,630.9L481.8,630L483.3,629.4L484.8,628.9L486.3,628.6L487.8,628.5L489.3,628.7L490.7,629L492.2,629.6L493.7,630.4L495.2,631.4L496.7,632.6L498.2,634L499.7,635.6L501.2,637.4L502.7,639.3L504.2,641.4L505.7,643.6L507.2,645.9L508.7,648.2L510.2,650.6L511.7,653.1L513.1,655.6L514.6,658.1L516.1,660.7L517.6,663.2L519.1,665.7L520.6,668.2L522.1,670.6L523.6,673.1L525.1,675.5L526.6,677.8L528.1,680.1L529.6,682.4L531.1,684.6L532.6,686.7L534.1,688.8L535.5,690.8L537,692.6L538.5,694.4L540,696.1L541.5,697.7L543,699.2L544.5,700.5L546,701.7L547.5,702.8L549,703.7L550.5,704.5L552,705.2L553.5,705.7L555,706L556.5,706.1L557.9,706.1M478,248.4L479.5,239.5L481,231L482.5,223.1L483.9,215.7L485.4,208.7L486.9,202.3L488.4,196.4L489.8,191L491.3,186.1L492.8,181.7L494.3,177.8L495.7,174.4L497.2,171.6L498.7,169.3L500.2,167.7L501.7,166.7L503.1,166.4L504.6,167L506.1,168.3L507.6,170.4L509,173.2L510.5,176.8L512,181.2L513.5,186.2L514.9,192L516.4,198.4L517.9,205.6L519.4,213.4L520.8,221.8L522.3,230.9L523.8,240.6L525.3,250.8L526.7,261.3L528.2,272L529.7,282.9L531.2,294.3L532.7,306.3L534.1,318.9L535.6,331.4L537.1,343.8L538.6,356.6L540,370.6L541.5,386L543,400.1L544.5,412.4L545.9,423L547.4,432.3L548.9,440.7L550.4,448.2L551.8,454.8L553.3,460.7L554.8,465.6L556.3,469.2L557.7,471M557.9,471L559.4,469.9L560.8,466.9L562.3,462.3L563.8,456.7L565.3,450.1L566.7,442.7L568.2,434.4L569.7,425.1L571.2,414.8L572.6,403.3L574.1,390.5L575.6,376.6L577.1,362.3L578.5,348.2L580,334.7L581.5,321.7L583,309.4L584.4,297.5L585.9,285.7L587.4,273.8L588.9,262L590.3,250.7L591.8,240L593.3,230.2L594.8,221.2L596.2,213L597.7,205.6L599.2,199.1L600.7,193.4L602.1,188.6L603.6,184.6L605.1,181.5L606.6,179.1L608,177.5L609.5,176.6L611,176.3L612.5,176.5L613.9,177.4L615.4,179.1L616.9,181.6L618.4,185L619.8,188.8L621.3,192.7L622.8,196.2L624.3,199.1L625.7,200.8L627.2,201.1M627.2,200.9L628.7,200.7L630.2,200.6L631.6,200.5L633.1,200.4L634.6,200.4L636.1,200.4L637.6,200.4L639.1,200.5L640.6,200.6L642,200.7L643.5,200.8L645,200.9L646.5,201.1L648,201.3L649.5,201.5L650.9,201.6L652.4,201.8L653.9,202L655.4,202.2L656.9,202.4L658.4,202.6L659.9,202.7L661.3,202.9L662.8,203L664.3,203.2L665.8,203.3L667.3,203.3L668.8,203.4L670.3,203.4L671.7,203.4L673.2,203.4L674.7,203.3L676.2,203.2L677.7,203L679.2,202.8L680.7,202.6L682.1,202.3L683.6,202L685.1,201.8L686.6,201.5L688.1,201.3L689.6,201.2L691,201.1L692.5,201.2L694,201.5L695.5,202.1L697,203.1L698.5,204.8L700,206.9L701.4,209.5L702.9,212.5L704.4,215.8L705.9,219.3L707.4,223L708.9,226.7L710.4,230.4L711.8,234.1L713.3,237.6L714.8,240.7L716.3,243.2L717.8,244.8L719.3,245.3M478,248.4L479.5,253.3L481,257.8L482.5,262.2L484,266.4L485.5,270.7L487,275L488.5,279.7L490,284.6L491.5,289.9L493,295.5L494.5,301.4L496,307.3L497.5,313.4L499,319.5L500.5,325.5L502,331.4L503.5,337.1L505,342.7L506.5,348.3L508,354.2L509.5,360.6L511,367.8L512.5,375.9L514,385.1L515.5,395.7L517,407.2L518.5,418.5L520,429.3L521.5,439.6L523,449.6L524.5,459.2L526,468.5L527.5,477.7L529,487.2L530.5,497.3L532,508.4L533.5,521L535,535.2L536.5,550.2L538,564.5L539.5,577L541,586.4L542.5,594.1L544,602.6L545.5,611.4L547,618.2L548.5,622.4L550,625L551.5,627L552.9,628.5L554.4,629.6L555.9,630.4L557.4,630.7L558.9,630.7L560.4,630.3L561.9,629.6L563.4,628.5L564.9,627L566.4,625.2L567.9,622.9L569.4,619.3L570.9,613.3L572.4,604.8L573.9,594.8L575.4,584.2L576.9,572.2L578.4,558.9L579.9,545L581.4,531.4L582.9,518.4L584.4,506L585.9,493.8L587.4,481.7L588.9,469.5L590.4,457.1L591.9,444.6L593.4,431.8L594.9,418.9L596.4,406L597.9,393.5L599.4,381.4L600.9,370.1L602.4,359.8L603.9,350.7M603.9,350.7L605.3,354.9L606.8,359.5L608.3,364.4L609.7,369.6L611.2,374.9L612.6,380.3L614.1,385.8L615.5,391.2L617,396.5L618.5,401.6L619.9,406.5L621.4,411L622.8,414.9L624.3,417.9L625.7,419.7L627.2,420.1M627.2,420.1L628.7,420.1L630.2,420.3L631.6,420.6L633.1,421L634.6,421.6L636.1,422.2L637.6,422.9L639.1,423.7L640.6,424.6L642,425.5L643.5,426.5L645,427.5L646.5,428.6L648,429.6L649.5,430.7L650.9,431.8L652.4,432.9L653.9,434L655.4,435L656.9,436L658.4,437L659.9,437.9L661.3,438.7L662.8,439.5L664.3,440.1L665.8,440.7L667.3,441.2L668.8,441.6L670.3,441.9L671.7,442.1L673.2,442.2L674.7,442.2L676.2,442.2L677.7,442.2L679.2,442.1L680.7,441.9L682.1,441.8L683.6,441.6L685.1,441.4L686.6,441.2L688.1,441L689.6,440.9L691,440.8L692.5,440.9L694,441L695.5,441.4L697,441.9L698.5,442.7L700,443.7L701.4,445.1L702.9,446.7L704.4,448.8L705.9,451.2L707.4,454L708.9,457L710.4,460.2L711.8,463.5L713.3,466.8L714.8,469.9L716.3,472.9L717.8,475.5L719.3,477.7M719.3,477.7L720.7,477.5L722.2,477.2L723.7,476.6L725.2,475.9L726.7,475L728.2,474L729.7,472.8L731.1,471.6L732.6,470.3L734.1,468.9L735.6,467.5L737.1,466L738.6,464.5L740,463L741.5,461.6L743,460.1L744.5,458.7L746,457.4L747.5,456.1L748.9,454.9L750.4,453.9L751.9,452.9L753.4,452.1L754.9,451.4L756.4,450.7L757.9,450.2L759.3,449.8L760.8,449.5L762.3,449.3L763.8,449.1L765.3,449.1L766.8,449.1L768.2,449.2L769.7,449.4L771.2,449.6M557.9,471L559.4,469.9L560.9,468.2L562.4,465.8L563.9,462.5L565.4,458.2L566.9,452.7L568.4,446.2L569.9,438.9L571.3,430.8L572.8,422.3L574.3,413.5L575.8,404.6L577.3,395.9L578.8,387.3L580.3,378.4L581.8,368.4L583.3,356.6L584.8,343.2L586.3,330.2L587.8,319.1L589.3,309.5L590.8,300.9L592.3,292.8L593.8,285.2L595.3,278.1L596.7,271.7L598.2,265.8L599.7,260.6L601.2,256.2L602.7,252.6L604.2,249.8L605.7,247.7L607.2,246.2L608.7,245.2L610.2,244.4L611.7,243.8L613.2,243.3L614.7,243L616.2,242.8L617.7,242.8L619.2,242.8L620.7,242.9L622.1,243.1L623.6,243.3L625.1,243.5L626.6,243.7L628.1,243.9L629.6,244.1L631.1,244.3L632.6,244.5L634.1,244.6L635.6,244.9L637.1,245.1L638.6,245.4L640.1,245.7L641.6,246.1L643.1,246.5L644.6,246.9L646.1,247.4L647.5,247.9L649,248.4L650.5,249L652,249.5L653.5,250L655,250.6L656.5,251.1L658,251.7L659.5,252.2L661,252.7L662.5,253.2L664,253.6L665.5,254.1L667,254.4L668.5,254.8L670,255.1L671.5,255.4L672.9,255.6L674.4,255.7L675.9,255.7L677.4,255.7L678.9,255.5L680.4,255.1L681.9,254.6L683.4,253.8L684.9,252.9L686.4,251.7L687.9,250.3L689.4,248.8L690.9,247.3L692.4,245.8L693.9,244.3L695.4,242.9L696.9,241.6L698.3,240.4L699.8,239.4L701.3,238.5L702.8,237.8L704.3,237.3L705.8,237.1L707.3,237.1L708.8,237.5L710.3,238.1L711.8,239L713.3,240.2L714.8,241.5L716.3,242.8L717.8,244.2L719.3,245.3M719.3,245.3L720.7,244.8L722.2,244.3L723.7,244L725.2,243.7L726.7,243.5L728.2,243.4L729.7,243.3L731.1,243.3L732.6,243.4L734.1,243.5L735.6,243.7L737.1,243.9L738.6,244.2L740,244.5L741.5,244.8L743,245.2L744.5,245.7L746,246.1L747.5,246.6L748.9,247.1L750.4,247.6L751.9,248.1L753.4,248.6L754.9,249.2L756.4,249.7L757.9,250.2L759.3,250.7L760.8,251.2L762.3,251.7L763.8,252.1L765.3,252.6L766.8,252.9L768.2,253.3L769.7,253.6L771.2,253.9M602.3,340.2L603.8,335.6L605.3,329.2L606.7,321.4L608.2,312.4L609.7,302.6L611.1,292.3L612.6,281.8L614,271.5L615.5,261.6L617,252.5L618.4,244.4L619.9,237.5L621.4,231.8L622.8,227.2L624.3,223.7L625.8,221.3L627.2,220M627.2,220.3L628.7,220.3L630.2,220.5L631.6,220.8L633.1,221.3L634.6,221.9L636.1,222.6L637.6,223.4L639.1,224.2L640.5,225.2L642,226.2L643.5,227.3L645,228.4L646.5,229.6L648,230.8L649.5,232L650.9,233.3L652.4,234.5L653.9,235.7L655.4,236.9L656.9,238.1L658.4,239.2L659.9,240.3L661.3,241.4L662.8,242.3L664.3,243.2L665.8,244L667.3,244.7L668.8,245.3L670.2,245.8L671.7,246.1L673.2,246.3L674.7,246.4L676.2,246.3L677.7,246L679.2,245.5L680.6,244.8L682.1,243.8L683.6,242.6L685.1,241.1L686.6,239.3L688.1,237.3L689.5,235L691,232.5L692.5,229.9L694,227.1L695.5,224.3L697,221.5L698.5,218.7L699.9,216L701.4,213.4L702.9,211.1L704.4,209L705.9,207.1L707.4,205.5L708.8,204.1L710.3,202.9L711.8,202L713.3,201.2L714.8,200.6L716.3,200.2L717.8,200L719.2,199.9L720.7,199.9L722.2,200.1L723.7,200.5L725.2,201L726.7,201.6L728.2,202.3L729.6,203.2L731.1,204.2L732.6,205.4L734.1,206.7L735.6,208.1L737.1,209.6L738.5,211.2L740,213L741.5,214.8L743,216.7L744.5,218.6L746,220.6L747.5,222.6L748.9,224.6L750.4,226.6L751.9,228.6L753.4,230.5L754.9,232.4L756.4,234.2L757.8,236L759.3,237.6L760.8,239.2L762.3,240.6L763.8,241.9L765.3,243L766.8,244L768.2,244.8L769.7,245.4L771.2,245.7M540,551.5L541.5,552.8L543,554L544.4,555.1L545.9,556L547.4,556.9L548.9,557.6L550.3,558.2L551.8,558.7L553.3,559.1L554.8,559.4L556.3,559.5L557.7,559.6L559.2,559.5L560.7,559.3L562.2,559.1L563.6,558.7L565.1,558.1L566.6,557.5L568.1,556.8L569.6,555.9L571,555L572.5,553.9L574,552.7L575.5,551.4L576.9,550L578.4,548.5L579.9,546.9L581.4,545.1L582.9,543.3L584.3,541.3L585.8,539.2L587.3,537.1L588.8,534.8L590.2,532.4L591.7,529.9L593.2,527.2L594.7,524.5L596.2,521.7L597.6,518.7L599.1,515.7L600.6,512.6L602.1,509.3L603.5,506.1L605,502.7L606.5,499.3L608,495.9L609.5,492.5L610.9,489.1L612.4,485.7L613.9,482.3L615.4,479L616.8,475.7L618.3,472.5L619.8,469.4L621.3,466.6L622.8,464.2L624.2,462.4L625.7,461.2L627.2,460.8M627.2,460.8L628.7,460.7L630.2,460.8L631.6,461.2L633.1,461.9L634.6,462.9L636.1,464L637.6,465.4L639.1,467L640.6,468.7L642,470.6L643.5,472.6L645,474.7L646.5,476.9L648,479.2L649.5,481.6L650.9,484L652.4,486.4L653.9,488.8L655.4,491.2L656.9,493.6L658.4,495.9L659.9,498.1L661.3,500.2L662.8,502.2L664.3,504.1L665.8,505.9L667.3,507.5L668.8,509L670.3,510.3L671.7,511.4L673.2,512.3L674.7,513L676.2,513.5L677.7,513.9L679.2,514.2L680.7,514.4L682.1,514.5L683.6,514.5L685.1,514.4L686.6,514.3L688.1,514L689.6,513.6L691,513.1L692.5,512.5L694,511.8L695.5,510.9L697,509.9L698.5,508.8L700,507.5L701.4,506.1L702.9,504.5L704.4,502.7L705.9,500.7L707.4,498.6L708.9,496.3L710.4,493.9L711.8,491.4L713.3,488.8L714.8,486.1L716.3,483.3L717.8,480.6L719.3,477.7M557.9,706.1L559.4,700.7L560.9,695L562.4,689.2L563.9,683.3L565.4,677.1L566.9,670.9L568.4,664.6L569.9,658.2L571.4,651.8L572.9,645.3L574.4,638.9L575.9,632.5L577.4,626.1L578.9,619.9L580.4,613.7L581.9,607.7L583.4,601.6L584.9,595.3L586.4,588.6L587.9,581.2L589.4,573L590.8,564.3L592.3,555.8L593.8,548.2L595.3,541.6L596.8,535.8L598.3,530.8L599.8,526.2L601.3,522L602.8,517.9L604.3,513.9L605.8,510L607.3,506.1L608.8,502L610.3,497.9L611.8,493.7L613.3,489.5L614.8,485.5L616.3,481.6L617.8,478.2L619.3,475.2L620.8,473.1L622.3,471.7L623.8,471L625.3,470.8L626.8,470.9L628.3,471L629.8,471.1L631.2,471.2L632.7,471.3L634.2,471.4L635.7,471.4L637.2,471.5L638.7,471.5L640.2,471.6L641.7,471.6L643.2,471.7L644.7,471.8L646.2,471.9L647.7,472L649.2,472.1L650.7,472.2L652.2,472.3L653.7,472.4L655.2,472.5L656.7,472.6L658.2,472.8L659.7,472.9L661.2,473L662.7,473.1L664.2,473.2L665.7,473.3L667.2,473.4L668.7,473.4L670.2,473.5L671.7,473.6L673.1,473.6L674.6,473.7L676.1,473.7L677.6,473.7L679.1,473.7M679.1,473.7L680.6,473.9L682.1,472.7L683.6,470.3L685.1,466.6L686.6,461.9L688.1,456.3L689.5,449.8L691,442.6L692.5,434.8L694,426.5L695.5,417.7L697,408.5L698.5,399L699.9,389.1L701.4,379L702.9,368.3L704.4,356.7L705.9,344.4L707.4,331.7L708.9,319.1L710.3,306.9L711.8,295.7L713.3,285.8L714.8,277.6L716.3,271.6L717.8,268.2L719.3,267.7M719.3,267.7L720.7,267.5L722.2,267.3L723.7,267.2L725.2,267.1L726.7,267.1L728.2,267.2L729.7,267.3L731.1,267.4L732.6,267.6L734.1,267.9L735.6,268.1L737.1,268.5L738.6,268.8L740,269.2L741.5,269.6L743,270L744.5,270.4L746,270.9L747.5,271.3L748.9,271.8L750.4,272.2L751.9,272.7L753.4,273.1L754.9,273.6L756.4,274L757.9,274.4L759.3,274.8L760.8,275.2L762.3,275.5L763.8,275.8L765.3,276.1L766.8,276.3L768.2,276.5L769.7,276.6L771.2,276.7M557.9,706.1L559.4,700.8L560.9,694.5L562.4,687.5L563.9,680.3L565.4,673L566.9,666.1L568.4,659.8L569.9,654.5L571.4,650.5L572.9,647.7L574.4,646L575.9,645.1L577.3,644.7L578.8,644.7L580.3,645L581.8,645.4L583.3,645.9L584.8,646.5L586.3,647.2L587.8,648L589.3,648.9L590.8,649.8L592.3,650.7L593.8,651.7L595.3,652.7L596.8,653.7L598.3,654.7L599.8,655.7L601.2,656.7L602.7,657.6L604.2,658.4L605.7,659.2L607.2,659.9L608.7,660.5L610.2,661.1L611.7,661.5L613.2,661.9L614.7,662.3L616.2,662.6L617.7,662.8L619.2,663.1L620.7,663.3L622.2,663.5L623.7,663.7L625.1,664L626.6,664.2L628.1,664.5L629.6,664.8L631.1,665.2L632.6,665.6L634.1,666L635.6,666.4L637.1,666.9L638.6,667.4L640.1,667.9L641.6,668.4L643.1,668.9L644.6,669.4L646.1,669.9L647.6,670.4L649.1,670.9L650.5,671.4L652,671.9L653.5,672.4L655,672.8L656.5,673.3L658,673.7L659.5,674.1L661,674.5L662.5,674.8L664,675.1L665.5,675.4L667,675.6L668.5,675.8L670,676L671.5,676.1L673,676.1L674.4,676.1L675.9,676L677.4,675.9L678.9,675.7L680.4,675.4L681.9,675.1L683.4,674.7L684.9,674.1L686.4,673.4L687.9,672.6L689.4,671.7L690.9,670.5L692.4,669.2L693.9,667.7L695.4,665.9L696.9,664L698.3,661.9L699.8,659.7L701.3,657.5L702.8,655.4L704.3,653.4L705.8,651.5L707.3,649.7L708.8,648L710.3,646.3L711.8,644.7L713.3,643.1L714.8,641.5L716.3,640L717.8,638.4L719.3,636.8M557.9,706.1L559.4,705.3L560.9,704.4L562.4,703.2L563.9,702L565.4,700.6L566.9,699L568.4,697.3L569.9,695.5L571.4,693.6L572.9,691.5L574.4,689.4L575.9,687.2L577.3,684.9L578.8,682.5L580.3,680.1L581.8,677.6L583.3,675.1L584.8,672.6L586.3,670L587.8,667.4L589.3,664.8L590.8,662.2L592.3,659.6L593.8,657L595.3,654.5L596.8,651.9L598.3,649.5L599.8,647.1L601.2,644.7L602.7,642.4L604.2,640.2L605.7,638.1L607.2,636.1L608.7,634.2L610.2,632.4L611.7,630.7L613.2,629.2L614.7,627.8L616.2,626.5L617.7,625.3L619.2,624.3L620.7,623.4L622.2,622.5L623.7,621.8L625.1,621.2L626.6,620.7L628.1,620.2L629.6,619.8L631.1,619.4L632.6,619L634.1,618.7L635.6,618.4L637.1,618.1L638.6,617.7L640.1,617.4L641.6,617L643.1,616.6L644.6,616.2L646.1,615.8L647.6,615.3L649.1,614.8L650.5,614.3L652,613.8L653.5,613.2L655,612.6L656.5,612.1L658,611.5L659.5,610.9L661,610.4L662.5,609.8L664,609.3L665.5,608.8L667,608.4L668.5,607.9L670,607.6L671.5,607.3L673,607L674.4,606.8L675.9,606.7L677.4,606.7L678.9,606.7L680.4,606.8L681.9,607.1L683.4,607.4L684.9,607.8L686.4,608.4L687.9,609.1L689.4,609.8L690.9,610.7L692.4,611.7L693.9,612.8L695.4,613.9L696.9,615.2L698.3,616.5L699.8,617.8L701.3,619.2L702.8,620.6L704.3,622.1L705.8,623.6L707.3,625.1L708.8,626.6L710.3,628.2L711.8,629.7L713.3,631.2L714.8,632.6L716.3,634.1L717.8,635.5L719.3,636.8M719.3,636.8L720.7,636.9L722.2,637L723.7,637L725.2,637L726.7,637L728.2,636.9L729.7,636.9L731.1,636.8L732.6,636.7L734.1,636.6L735.6,636.5L737.1,636.3L738.6,636.2L740,636L741.5,635.8L743,635.7L744.5,635.5L746,635.3L747.5,635.1L748.9,634.9L750.4,634.7L751.9,634.5L753.4,634.3L754.9,634.1L756.4,633.9L757.9,633.8L759.3,633.6L760.8,633.4L762.3,633.3L763.8,633.2L765.3,633L766.8,632.9L768.2,632.9L769.7,632.8L771.2,632.7M557.9,706.1L559.4,705.5L560.9,704.9L562.4,704.3L563.9,703.6L565.4,702.8L566.9,702L568.4,701.2L569.9,700.3L571.3,699.4L572.8,698.5L574.3,697.6L575.8,696.6L577.3,695.6L578.8,694.6L580.3,693.6L581.8,692.6L583.3,691.6L584.8,690.6L586.3,689.6L587.8,688.6L589.2,687.7L590.7,686.7L592.2,685.8L593.7,684.8L595.2,684L596.7,683.1L598.2,682.2L599.7,681.4L601.2,680.7L602.7,679.9L604.2,679.2L605.7,678.5L607.1,677.8L608.6,677.2L610.1,676.7L611.6,676.1L613.1,675.6L614.6,675.2L616.1,674.7L617.6,674.4L619.1,674L620.6,673.8L622.1,673.5L623.6,673.3L625,673.1L626.5,673L628,672.9L629.5,672.8L631,672.8L632.5,672.7L634,672.7L635.5,672.8L637,672.8L638.5,672.9L640,673L641.4,673.1L642.9,673.2L644.4,673.4L645.9,673.5L647.4,673.7L648.9,673.8L650.4,674L651.9,674.2L653.4,674.4L654.9,674.6L656.4,674.7L657.9,674.9L659.3,675.1L660.8,675.2L662.3,675.4L663.8,675.5L665.3,675.7L666.8,675.8L668.3,675.9L669.8,676L671.3,676.1L672.8,676.1L674.3,676.1L675.8,676.2L677.2,676.2L678.7,676.1L680.2,676.1L681.7,676.1L683.2,676L684.7,675.9L686.2,675.8L687.7,675.7L689.2,675.6L690.7,675.5L692.2,675.3L693.7,675.2L695.1,675L696.6,674.8L698.1,674.7L699.6,674.5L701.1,674.3L702.6,674.1L704.1,673.9L705.6,673.7L707.1,673.5L708.6,673.3L710.1,673.1L711.5,672.9L713,672.6L714.5,672.4L716,672.2L717.5,671.9L719,671.7L720.5,671.5L722,671.2L723.5,671L725,670.7L726.5,670.5L728,670.2L729.4,670L730.9,669.7L732.4,669.5L733.9,669.2L735.4,668.9L736.9,668.7L738.4,668.4L739.9,668.2L741.4,667.9L742.9,667.7L744.4,667.4L745.9,667.1L747.3,666.9L748.8,666.7L750.3,666.4L751.8,666.2L753.3,665.9L754.8,665.7L756.3,665.5L757.8,665.3L759.3,665.1L760.8,664.9L762.3,664.7L763.8,664.5L765.2,664.3L766.7,664.2L768.2,664L769.7,663.8L771.2,663.7" stroke="#000" stroke-width="5.5" fill="none" stroke-linecap="round" stroke-linejoin="round"/></g><rect x="128.0" y="105.0" width="643.0" height="866.7" fill="none" stroke="#000" stroke-width="2.2"/><path d="M128,971.7v9.8M197,971.7v9.8M237,971.7v9.8M317,971.7v9.8M368,971.7v9.8M437.5,971.7v9.8M477.8,971.7v9.8M557.8,971.7v9.8M627,971.7v9.8M679,971.7v9.8M719,971.7v9.8M771,971.7v9.8M128.0,904h-9.8M128.0,751.6h-9.8M128.0,599.2h-9.8M128.0,446.8h-9.8M128.0,294.4h-9.8M128.0,142h-9.8" stroke="#000" stroke-width="2.2" fill="none"/><text x="108.5" y="915.3" font-size="27.8" text-anchor="end">0</text><text x="108.5" y="762.9" font-size="27.8" text-anchor="end">20</text><text x="108.5" y="610.5" font-size="27.8" text-anchor="end">40</text><text x="108.5" y="458.1" font-size="27.8" text-anchor="end">60</text><text x="108.5" y="305.7" font-size="27.8" text-anchor="end">80</text><text x="108.5" y="153.3" font-size="27.8" text-anchor="end">100</text><text x="128" y="1018" font-size="33.3" text-anchor="middle">Γ</text><text x="197" y="1018" font-size="33.3" text-anchor="middle">M</text><text x="237" y="1018" font-size="33.3" text-anchor="middle">K</text><text x="317" y="1018" font-size="33.3" text-anchor="middle">Γ</text><text x="368" y="1018" font-size="33.3" text-anchor="middle">A</text><text x="437.5" y="1018" font-size="33.3" text-anchor="middle">L</text><text x="477.8" y="1018" font-size="33.3" text-anchor="middle">H</text><text x="557.8" y="1018" font-size="33.3" text-anchor="middle">A</text><text x="627" y="1018" font-size="33.3" text-anchor="middle">L</text><text x="679" y="1018" font-size="33.3" text-anchor="middle">M</text><text x="719" y="1018" font-size="33.3" text-anchor="middle">K</text><text x="771" y="1018" font-size="33.3" text-anchor="middle">H</text><text x="449.5" y="1058" font-size="27.8" text-anchor="middle">Wave Vector</text><text transform="translate(36.7,539) rotate(-90)" font-size="27.8" text-anchor="middle">Energy (meV)</text><path d="M809,105.0V971.7M941.5,105.0V971.7M1074,105.0V971.7M795.2,904H1116.0M795.2,751.6H1116.0M795.2,599.2H1116.0M795.2,446.8H1116.0M795.2,294.4H1116.0M795.2,142H1116.0" stroke="#b0b0b0" stroke-width="2.2" fill="none"/><path d="M809.1,935L809.1,931.4L809.1,927.9L809.1,924.4L809.1,920.9L809.1,917.4L809.1,913.8L809.1,910.3L809.1,906.8L809.1,903.3L809.1,899.8L809.1,896.3L809.1,892.7L809.2,889.2L809.2,885.7L809.3,882.2L809.3,878.7L809.4,875.2L809.5,871.6L809.5,868.1L809.6,864.6L809.7,861.1L809.7,857.6L809.8,854.1L809.9,850.5L810,847L810.2,843.5L810.3,840L810.4,836.5L810.6,832.9L810.8,829.4L811,825.9L811.2,822.4L811.6,818.9L812,815.4L812.4,811.8L812.8,808.3L813.2,804.8L813.6,801.3L813.9,797.8L814.3,794.3L814.6,790.7L815,787.2L815.4,783.7L815.9,780.2L816.4,776.7L817,773.1L817.8,769.6L818.6,766.1L819.5,762.6L820.5,759.1L821.5,755.6L822.6,752L823.7,748.5L824.8,745L826.1,741.5L827.6,738L829.3,734.5L831.6,730.9L834.3,727.4L837.2,723.9L840.1,720.4L842.8,716.9L845.9,713.3L849.7,709.8L855.7,706.3L864.2,702.8L871,699.3L878.6,695.8L888.9,692.2L893.9,690.7L915.1,685.2L935.8,681.2L972.8,679.5L1024.7,677.3L1069.2,675.1L1088.8,673.8L1069.2,672.5L1035.8,670.7L1016.6,668.9L1035.8,667.2L1076.6,665.4L1102,664L1076.6,663.2L1009.9,662.5L943.2,661.9L915.4,661.1L893.9,659.7L878.3,657.1L872.4,654.1L882,651.8L893.9,650.6L943.2,649.3L964.3,648.3L943.2,647L893.9,645.8L882,643.9L870.2,641.2L865.7,638L870.9,635.1L882,632.4L893.9,630.2L943.2,629.6L968.4,628.9L966.1,627.2L963.9,626.3L968.4,625L971,623.6L961.7,622.5L943.2,621.9L915.4,621L893.9,619.4L869,616L861.6,614L836.6,608.7L818.8,606.7L821.2,603.4L822.7,599.9L822.3,596L823.3,591.1L824.8,583.2L828.6,577.5L835.3,575.1L850.1,574L866.6,572.6L878.3,569.7L866.6,567.6L857.6,565.3L864.1,560.9L872.7,557.5L873.6,555.6L871.5,553L871.6,550.7L876.3,548L869,545.8L867,541.2L866.2,534.5L867.4,531.5L871.9,528.2L870.7,525.7L867.8,522.7L869.7,517.9L869.4,514.9L866.7,510L865.3,502.3L867.4,497L865,492.4L864.5,485.6L865.3,479.7L865.3,475.9L871.5,472.9L870.3,469.9L862.4,467.1L855,464.5L855.4,462.5L841.9,461.1L835.9,455.3L841,452.3L840.2,449.5L842.3,444.5L845.2,440.7L849.3,438.3L858.3,437.2L858.2,435.2L855.8,433.3L860.8,431.2L866.2,429.9L868.2,426.9L874.8,419.2L874,416.8L871.9,415.2L871.5,412.3L861.6,411.4L861.3,410.4L873.6,409.1L860.8,407.8L843.1,406.4L843.5,403.5L847.2,397.6L850.5,391.7L851.6,388L850.3,385L851.6,380.5L864.1,379.7L880.5,378.5L890.5,376.5L899.5,374.2L898.3,372.7L892.1,371.9L884.7,369.3L873.1,366.9L862.4,362.5L855.8,360.1L843.5,358.6L832.3,353.7L829.9,349.8L828.9,344.9L829.5,343.3L839.4,341.4L852.6,338L869,335.2L876.5,333.4L886.4,332.7L886.4,330.8L884.5,328.9L887.9,326.9L897.1,324.4L900.8,322.9L898.7,321.4L887.9,319.4L880.5,317.6L874.8,314.6L870.3,312.6L868.7,309.7L865,305.8L860,302.8L853,300L850.9,298L854.2,296.5L851.1,295L852.1,292.6L849.1,291.2L850.5,287.3L853.4,283.9L858.7,282L863.3,277.4L869.9,273.6L883.1,272.6L891.3,271.6L895.4,271L889.6,268.6L890.5,265.7L889.1,263.1L892.5,259.8L895.4,257.8L886.4,256.3L898.7,255L923.4,253.1L935,251L937.4,248.1L938.7,246L965.8,245.3L965.8,243.9L938.7,243.2L933.3,242.3L921.7,240.9L905.4,238.5L894.6,234.5L883.9,231.4L874.8,229.7L860,226.7L853.2,224.1L862.9,222.6L858.7,221.4L855.8,219.4L866.6,218.2L897.6,216.9L891.3,215.6L866.6,214.4L845.2,213L837.3,211.6L841.9,209.1L850.9,206.1L851.7,203.3L855.8,201.3L866.6,200.3L891.3,199.3L911,198.5L925.4,196.3L915.1,193.4L898.7,191.5L890.9,190.1L895.8,188.5L896.6,186.6L890.5,185L883.9,183.7L876.5,182.7L867.4,181.1L870.7,178.7L858.3,177.2L841.9,174.9L827,171.9L809.7,168.6L809.1,167.1L809.1,142" stroke="#000" stroke-width="5.5" fill="none" stroke-linejoin="round" stroke-linecap="butt"/><rect x="795.2" y="105.0" width="320.79999999999995" height="866.7" fill="none" stroke="#000" stroke-width="2.2"/><path d="M809,971.7v9.8M941.5,971.7v9.8M1074,971.7v9.8M1116.0,904h9.8M1116.0,751.6h9.8M1116.0,599.2h9.8M1116.0,446.8h9.8M1116.0,294.4h9.8M1116.0,142h9.8" stroke="#000" stroke-width="2.2" fill="none"/><text x="809" y="1014" font-size="27.8" text-anchor="middle">0.00</text><text x="941.5" y="1014" font-size="27.8" text-anchor="middle">0.25</text><text x="1074" y="1014" font-size="27.8" text-anchor="middle">0.50</text><text x="1135.5" y="915.3" font-size="27.8">0</text><text x="1135.5" y="762.9" font-size="27.8">20</text><text x="1135.5" y="610.5" font-size="27.8">40</text><text x="1135.5" y="458.1" font-size="27.8">60</text><text x="1135.5" y="305.7" font-size="27.8">80</text><text x="1135.5" y="153.3" font-size="27.8">100</text><g clip-path="url(#cr)"><path d="M1409,941.8L1413,941.8L1417,941.8L1421,941.8L1425,941.8L1429,941.8L1433,941.8L1437,941.8L1441,941.8L1445,941.8L1449,941.8L1453,941.8L1457,941.7L1461,941.6L1465,941.5L1469,941.4L1473,941.3L1477,941.1L1481,941L1485,940.9L1489,940.8L1493,940.6L1497,940.5L1501,940.3L1505,940.1L1509,939.9L1513,939.7L1517,939.4L1521,939.2L1525,938.8L1529,938.5L1533,938.1L1537,937.6L1541,937L1545,936.2L1549,935.4L1553,934.5L1557,933.8L1561,933.1L1565,932.4L1569,931.8L1573,931.1L1577,930.4L1581,929.6L1585,928.8L1589,927.8L1593,926.6L1597,925.2L1601,923.7L1605,922L1609,920.1L1613,918.2L1617,916.3L1621,914.2L1625,911.8L1629,909.1L1633,906L1637,902.3L1641,897.6L1645,891.9L1649,885.8L1653,879.1L1657,872.2L1661,864.5L1665,854.9L1669,840.4L1673,819.5L1677,801.9L1681,781.5L1685,754.5L1686.7,741.2L1693,681.9L1697.5,622.2L1699.5,523.4L1702,389.1L1704.5,275.1L1706,224.8L1707.5,275.1L1709.5,360.6L1711.5,410L1713.5,360.6L1715.5,256.1L1717.1,191L1718,256.1L1718.8,427.1L1719.5,598.1L1720.4,669.4L1722,724.5L1725,764.4L1728.4,779.5L1731,754.9L1732.3,724.5L1733.8,598.1L1735,544L1736.5,598.1L1737.8,724.5L1740,754.9L1743,785.2L1746.7,796.6L1750,783.4L1753,754.9L1755.5,724.5L1756.2,598.1L1757,533.5L1759,539.2L1760,544.9L1761.5,533.5L1763,526.9L1764.3,550.6L1765,598.1L1766,669.4L1767.8,724.5L1771.7,788.1L1774,805L1779,870L1781.8,934.4L1790,930L1802,932L1815.5,931L1819.5,924.4L1822.2,902.2L1824.4,891L1827,904.4L1830,915.5L1834.4,914.4L1839,909.3L1843.3,914.4L1846,914.4L1849.3,910.7L1852,916.7L1864.4,925.6L1880,929.3L1902,932.2L1922,935L1936.7,936L1949,940.4L1980,941L2100,941.3L2180,941L2193,939L2205,941L2282,941.8L2310.7,941.8L2310.7,942.0L1409,942.0Z" fill="#000080" fill-opacity="0.7"/><path d="M1409,941.8L1413,941.8L1417,941.8L1421,941.8L1425,941.8L1429,941.8L1433,941.8L1437,941.8L1441,941.8L1445,941.8L1449,941.8L1453,941.7L1457,941.6L1461,941.5L1465,941.4L1469,941.3L1473,941.1L1477,940.9L1481,940.8L1485,940.6L1489,940.4L1493,940.2L1497,940L1501,939.8L1505,939.5L1509,939.2L1513,938.9L1517,938.5L1521,938.1L1525,937.7L1529,937.2L1533,936.7L1537,936L1541,935.1L1545,934L1549,932.8L1553,931.7L1557,930.6L1561,929.6L1565,928.7L1569,927.8L1573,926.8L1577,925.8L1581,924.7L1585,923.4L1589,922L1593,920.3L1597,918.3L1601,916.1L1605,913.6L1609,910.9L1613,908.1L1617,905.3L1621,902.4L1625,899.2L1629,895.8L1633,891.8L1637,887.1L1641,881L1645,873.7L1649,865.9L1653,858.2L1657,850.7L1661,842.5L1665,832.1L1669,816.1L1673,793L1677,774.8L1681,754.1L1685,726.4L1686.7,713L1693,655.6L1697.5,600L1699.5,500L1702,360L1704.5,240L1706,187L1707.5,240L1709.5,330L1711.5,382L1713.5,330L1715.5,220L1717.1,151.5L1718,220L1718.8,400L1719.5,580L1720.4,655L1722,713L1725,755L1728.4,771L1731,745L1732.3,713L1733.8,580L1735,523L1736.5,580L1737.8,713L1740,745L1743,777L1746.7,789L1750,775L1753,745L1755.5,713L1756.2,580L1757,512L1759,518L1760,524L1761.5,512L1763,505L1764.3,530L1765,580L1766,655L1767.8,713L1771.7,780L1774,800L1780,867.6L1782.3,915.5L1786,909L1790,905L1794.4,906L1800,903.3L1809,899.5L1815.5,889L1818.2,871L1819.5,831L1821,786.7L1824.4,755L1826.7,786.7L1829.3,811L1834.4,793.3L1838.2,770L1840.4,767.8L1843.3,773.3L1846,773L1849,760.4L1851.5,780L1856.7,785.6L1864.4,787.8L1867.8,784.4L1871.5,772.2L1874.4,775.6L1877.8,783.3L1883.3,778.2L1886.7,779L1892.2,786.2L1901,790L1907,784.4L1912.2,791L1920,792.2L1926.7,790L1931,790L1934.4,773.3L1937.8,776.7L1941,797.8L1944,817.8L1946.2,816.7L1947.8,853.3L1954.4,869.3L1957.8,855.6L1961,857.8L1966.7,852.2L1971,844.4L1973.8,833.3L1975,809L1977.3,809.3L1979.5,815.6L1981.8,802.2L1983.3,787.8L1986.7,782.2L1995.5,764.4L1998.2,766.7L2000,772.2L2003.3,773.3L2004.4,800L2005.5,801L2007,767.8L2008.4,802.2L2010,850L2013.3,849L2020,839L2026.7,830L2031,827L2034.4,830.7L2039.5,827L2040.4,793.3L2041.8,749L2044,722L2046.7,697.8L2048.4,701L2049.3,717.8L2052.2,737.8L2055,769L2060,797.8L2062.7,815.6L2064.4,849L2070,879L2074.4,885.6L2080,888.4L2081.8,886.7L2084,860L2087.8,824.4L2091,780L2093,760L2093.8,733.3L2096,733.3L2098.2,738.2L2100.4,729L2103.3,704.4L2105,694.4L2106.7,700L2109,729L2111,749L2114.4,764.4L2116.7,776.7L2120,781L2124.4,791L2127.8,804.4L2131,823.3L2133.3,829L2135,820L2136.7,828.4L2139.5,825.6L2141,833.8L2145.5,830L2149.3,822.2L2151.5,807.8L2156.7,795.6L2161,777.8L2162.2,742L2163.3,720L2164,709L2166.7,724.4L2170,722L2173,726L2176.7,716.7L2179,709L2180.7,733.3L2182.2,700L2184.4,633.3L2186.7,602L2190,595.6L2192.4,592L2193.2,519L2194.8,519L2195.6,592L2196.7,606.7L2198.2,637.8L2201,682L2205.5,711L2209,740L2211,764.4L2214.4,804.4L2217.3,822.7L2219,796.7L2220.4,807.8L2222.7,815.6L2224,786.7L2225.5,703L2227,720L2228.4,786.7L2230,844.4L2231.5,865.6L2234.4,853.3L2237.8,829L2241,826.7L2243.3,815.6L2244.4,786.7L2245.5,720L2246.5,666.7L2249,628L2252.2,655.6L2254.4,700L2256,721L2257.8,707.8L2260,705.6L2261.8,722.2L2263.3,740L2264.4,760L2266.2,784.4L2269,775.6L2270.7,809L2273.3,853.3L2276.7,893.3L2280.4,940L2282.2,941.8L2310.7,941.8L2310.7,941.8L2282,941.8L2205,941L2193,939L2180,941L2100,941.3L1980,941L1949,940.4L1936.7,936L1922,935L1902,932.2L1880,929.3L1864.4,925.6L1852,916.7L1849.3,910.7L1846,914.4L1843.3,914.4L1839,909.3L1834.4,914.4L1830,915.5L1827,904.4L1824.4,891L1822.2,902.2L1819.5,924.4L1815.5,931L1802,932L1790,930L1781.8,934.4L1779,870L1774,805L1771.7,788.1L1767.8,724.5L1766,669.4L1765,598.1L1764.3,550.6L1763,526.9L1761.5,533.5L1760,544.9L1759,539.2L1757,533.5L1756.2,598.1L1755.5,724.5L1753,754.9L1750,783.4L1746.7,796.6L1743,785.2L1740,754.9L1737.8,724.5L1736.5,598.1L1735,544L1733.8,598.1L1732.3,724.5L1731,754.9L1728.4,779.5L1725,764.4L1722,724.5L1720.4,669.4L1719.5,598.1L1718.8,427.1L1718,256.1L1717.1,191L1715.5,256.1L1713.5,360.6L1711.5,410L1709.5,360.6L1707.5,275.1L1706,224.8L1704.5,275.1L1702,389.1L1699.5,523.4L1697.5,622.2L1693,681.9L1686.7,741.2L1685,754.5L1681,781.5L1677,801.9L1673,819.5L1669,840.4L1665,854.9L1661,864.5L1657,872.2L1653,879.1L1649,885.8L1645,891.9L1641,897.6L1637,902.3L1633,906L1629,909.1L1625,911.8L1621,914.2L1617,916.3L1613,918.2L1609,920.1L1605,922L1601,923.7L1597,925.2L1593,926.6L1589,927.8L1585,928.8L1581,929.6L1577,930.4L1573,931.1L1569,931.8L1565,932.4L1561,933.1L1557,933.8L1553,934.5L1549,935.4L1545,936.2L1541,937L1537,937.6L1533,938.1L1529,938.5L1525,938.8L1521,939.2L1517,939.4L1513,939.7L1509,939.9L1505,940.1L1501,940.3L1497,940.5L1493,940.6L1489,940.8L1485,940.9L1481,941L1477,941.1L1473,941.3L1469,941.4L1465,941.5L1461,941.6L1457,941.7L1453,941.8L1449,941.8L1445,941.8L1441,941.8L1437,941.8L1433,941.8L1429,941.8L1425,941.8L1421,941.8L1417,941.8L1413,941.8L1409,941.8Z" fill="#800000" fill-opacity="0.7"/></g><path d="M1444.2,112.0V982.0M1617.5,112.0V982.0M1790.8,112.0V982.0M1964.1,112.0V982.0M2137.4,112.0V982.0M2310.7,112.0V982.0M1367.0,942H2353.5M1367.0,799H2353.5M1367.0,656H2353.5M1367.0,513H2353.5M1367.0,370H2353.5M1367.0,227H2353.5" stroke="#b0b0b0" stroke-width="2.2" fill="none"/><g clip-path="url(#cr)"><path d="M1409,941.8L1413,941.8L1417,941.8L1421,941.8L1425,941.8L1429,941.8L1433,941.8L1437,941.8L1441,941.8L1445,941.8L1449,941.8L1453,941.8L1457,941.7L1461,941.6L1465,941.5L1469,941.4L1473,941.3L1477,941.1L1481,941L1485,940.9L1489,940.8L1493,940.6L1497,940.5L1501,940.3L1505,940.1L1509,939.9L1513,939.7L1517,939.4L1521,939.2L1525,938.8L1529,938.5L1533,938.1L1537,937.6L1541,937L1545,936.2L1549,935.4L1553,934.5L1557,933.8L1561,933.1L1565,932.4L1569,931.8L1573,931.1L1577,930.4L1581,929.6L1585,928.8L1589,927.8L1593,926.6L1597,925.2L1601,923.7L1605,922L1609,920.1L1613,918.2L1617,916.3L1621,914.2L1625,911.8L1629,909.1L1633,906L1637,902.3L1641,897.6L1645,891.9L1649,885.8L1653,879.1L1657,872.2L1661,864.5L1665,854.9L1669,840.4L1673,819.5L1677,801.9L1681,781.5L1685,754.5L1686.7,741.2L1693,681.9L1697.5,622.2L1699.5,523.4L1702,389.1L1704.5,275.1L1706,224.8L1707.5,275.1L1709.5,360.6L1711.5,410L1713.5,360.6L1715.5,256.1L1717.1,191L1718,256.1L1718.8,427.1L1719.5,598.1L1720.4,669.4L1722,724.5L1725,764.4L1728.4,779.5L1731,754.9L1732.3,724.5L1733.8,598.1L1735,544L1736.5,598.1L1737.8,724.5L1740,754.9L1743,785.2L1746.7,796.6L1750,783.4L1753,754.9L1755.5,724.5L1756.2,598.1L1757,533.5L1759,539.2L1760,544.9L1761.5,533.5L1763,526.9L1764.3,550.6L1765,598.1L1766,669.4L1767.8,724.5L1771.7,788.1L1774,805L1779,870L1781.8,934.4L1790,930L1802,932L1815.5,931L1819.5,924.4L1822.2,902.2L1824.4,891L1827,904.4L1830,915.5L1834.4,914.4L1839,909.3L1843.3,914.4L1846,914.4L1849.3,910.7L1852,916.7L1864.4,925.6L1880,929.3L1902,932.2L1922,935L1936.7,936L1949,940.4L1980,941L2100,941.3L2180,941L2193,939L2205,941L2282,941.8L2310.7,941.8" stroke="#000080" stroke-width="5.5" fill="none" stroke-linejoin="round"/><path d="M1409,941.8L1413,941.8L1417,941.8L1421,941.8L1425,941.8L1429,941.8L1433,941.8L1437,941.8L1441,941.8L1445,941.8L1449,941.8L1453,941.7L1457,941.6L1461,941.5L1465,941.4L1469,941.3L1473,941.1L1477,940.9L1481,940.8L1485,940.6L1489,940.4L1493,940.2L1497,940L1501,939.8L1505,939.5L1509,939.2L1513,938.9L1517,938.5L1521,938.1L1525,937.7L1529,937.2L1533,936.7L1537,936L1541,935.1L1545,934L1549,932.8L1553,931.7L1557,930.6L1561,929.6L1565,928.7L1569,927.8L1573,926.8L1577,925.8L1581,924.7L1585,923.4L1589,922L1593,920.3L1597,918.3L1601,916.1L1605,913.6L1609,910.9L1613,908.1L1617,905.3L1621,902.4L1625,899.2L1629,895.8L1633,891.8L1637,887.1L1641,881L1645,873.7L1649,865.9L1653,858.2L1657,850.7L1661,842.5L1665,832.1L1669,816.1L1673,793L1677,774.8L1681,754.1L1685,726.4L1686.7,713L1693,655.6L1697.5,600L1699.5,500L1702,360L1704.5,240L1706,187L1707.5,240L1709.5,330L1711.5,382L1713.5,330L1715.5,220L1717.1,151.5L1718,220L1718.8,400L1719.5,580L1720.4,655L1722,713L1725,755L1728.4,771L1731,745L1732.3,713L1733.8,580L1735,523L1736.5,580L1737.8,713L1740,745L1743,777L1746.7,789L1750,775L1753,745L1755.5,713L1756.2,580L1757,512L1759,518L1760,524L1761.5,512L1763,505L1764.3,530L1765,580L1766,655L1767.8,713L1771.7,780L1774,800L1780,867.6L1782.3,915.5L1786,909L1790,905L1794.4,906L1800,903.3L1809,899.5L1815.5,889L1818.2,871L1819.5,831L1821,786.7L1824.4,755L1826.7,786.7L1829.3,811L1834.4,793.3L1838.2,770L1840.4,767.8L1843.3,773.3L1846,773L1849,760.4L1851.5,780L1856.7,785.6L1864.4,787.8L1867.8,784.4L1871.5,772.2L1874.4,775.6L1877.8,783.3L1883.3,778.2L1886.7,779L1892.2,786.2L1901,790L1907,784.4L1912.2,791L1920,792.2L1926.7,790L1931,790L1934.4,773.3L1937.8,776.7L1941,797.8L1944,817.8L1946.2,816.7L1947.8,853.3L1954.4,869.3L1957.8,855.6L1961,857.8L1966.7,852.2L1971,844.4L1973.8,833.3L1975,809L1977.3,809.3L1979.5,815.6L1981.8,802.2L1983.3,787.8L1986.7,782.2L1995.5,764.4L1998.2,766.7L2000,772.2L2003.3,773.3L2004.4,800L2005.5,801L2007,767.8L2008.4,802.2L2010,850L2013.3,849L2020,839L2026.7,830L2031,827L2034.4,830.7L2039.5,827L2040.4,793.3L2041.8,749L2044,722L2046.7,697.8L2048.4,701L2049.3,717.8L2052.2,737.8L2055,769L2060,797.8L2062.7,815.6L2064.4,849L2070,879L2074.4,885.6L2080,888.4L2081.8,886.7L2084,860L2087.8,824.4L2091,780L2093,760L2093.8,733.3L2096,733.3L2098.2,738.2L2100.4,729L2103.3,704.4L2105,694.4L2106.7,700L2109,729L2111,749L2114.4,764.4L2116.7,776.7L2120,781L2124.4,791L2127.8,804.4L2131,823.3L2133.3,829L2135,820L2136.7,828.4L2139.5,825.6L2141,833.8L2145.5,830L2149.3,822.2L2151.5,807.8L2156.7,795.6L2161,777.8L2162.2,742L2163.3,720L2164,709L2166.7,724.4L2170,722L2173,726L2176.7,716.7L2179,709L2180.7,733.3L2182.2,700L2184.4,633.3L2186.7,602L2190,595.6L2192.4,592L2193.2,519L2194.8,519L2195.6,592L2196.7,606.7L2198.2,637.8L2201,682L2205.5,711L2209,740L2211,764.4L2214.4,804.4L2217.3,822.7L2219,796.7L2220.4,807.8L2222.7,815.6L2224,786.7L2225.5,703L2227,720L2228.4,786.7L2230,844.4L2231.5,865.6L2234.4,853.3L2237.8,829L2241,826.7L2243.3,815.6L2244.4,786.7L2245.5,720L2246.5,666.7L2249,628L2252.2,655.6L2254.4,700L2256,721L2257.8,707.8L2260,705.6L2261.8,722.2L2263.3,740L2264.4,760L2266.2,784.4L2269,775.6L2270.7,809L2273.3,853.3L2276.7,893.3L2280.4,940L2282.2,941.8L2310.7,941.8" stroke="#800000" stroke-width="5.5" fill="none" stroke-linejoin="round"/><path d="M1409,941.8L1413,941.8L1417,941.8L1421,941.8L1425,941.8L1429,941.8L1433,941.8L1437,941.8L1441,941.8L1445,941.8L1449,941.8L1453,941.7L1457,941.6L1461,941.5L1465,941.4L1469,941.3L1473,941.1L1477,940.9L1481,940.8L1485,940.6L1489,940.4L1493,940.2L1497,940L1501,939.8L1505,939.5L1509,939.2L1513,938.9L1517,938.5L1521,938.1L1525,937.7L1529,937.2L1533,936.7L1537,936L1541,935.1L1545,934L1549,932.8L1553,931.7L1557,930.6L1561,929.6L1565,928.7L1569,927.8L1573,926.8L1577,925.8L1581,924.7L1585,923.4L1589,922L1593,920.3L1597,918.3L1601,916.1L1605,913.6L1609,910.9L1613,908.1L1617,905.3L1621,902.4L1625,899.2L1629,895.8L1633,891.8L1637,887.1L1641,881L1645,873.7L1649,865.9L1653,858.2L1657,850.7L1661,842.5L1665,832.1L1669,816.1L1673,793L1677,774.8L1681,754.1L1685,726.4L1686.7,713L1693,655.6L1697.5,600L1699.5,500L1702,360L1704.5,240L1706,187L1707.5,240L1709.5,330L1711.5,382L1713.5,330L1715.5,220L1717.1,151.5L1718,220L1718.8,400L1719.5,580L1720.4,655L1722,713L1725,755L1728.4,771L1731,745L1732.3,713L1733.8,580L1735,523L1736.5,580L1737.8,713L1740,745L1743,777L1746.7,789L1750,775L1753,745L1755.5,713L1756.2,580L1757,512L1759,518L1760,524L1761.5,512L1763,505L1764.3,530L1765,580L1766,655L1767.8,713L1771.7,780L1774,800L1780,867.6L1782.3,915.5L1786,909L1790,905L1794.4,906L1800,903.3L1809,899.5L1815.5,889L1818.2,871L1819.5,831L1821,786.7L1824.4,755L1826.7,786.7L1829.3,811L1834.4,793.3L1838.2,770L1840.4,767.8L1843.3,773.3L1846,773L1849,760.4L1851.5,780L1856.7,785.6L1864.4,787.8L1867.8,784.4L1871.5,772.2L1874.4,775.6L1877.8,783.3L1883.3,778.2L1886.7,779L1892.2,786.2L1901,790L1907,784.4L1912.2,791L1920,792.2L1926.7,790L1931,790L1934.4,773.3L1937.8,776.7L1941,797.8L1944,817.8L1946.2,816.7L1947.8,853.3L1954.4,869.3L1957.8,855.6L1961,857.8L1966.7,852.2L1971,844.4L1973.8,833.3L1975,809L1977.3,809.3L1979.5,815.6L1981.8,802.2L1983.3,787.8L1986.7,782.2L1995.5,764.4L1998.2,766.7L2000,772.2L2003.3,773.3L2004.4,800L2005.5,801L2007,767.8L2008.4,802.2L2010,850L2013.3,849L2020,839L2026.7,830L2031,827L2034.4,830.7L2039.5,827L2040.4,793.3L2041.8,749L2044,722L2046.7,697.8L2048.4,701L2049.3,717.8L2052.2,737.8L2055,769L2060,797.8L2062.7,815.6L2064.4,849L2070,879L2074.4,885.6L2080,888.4L2081.8,886.7L2084,860L2087.8,824.4L2091,780L2093,760L2093.8,733.3L2096,733.3L2098.2,738.2L2100.4,729L2103.3,704.4L2105,694.4L2106.7,700L2109,729L2111,749L2114.4,764.4L2116.7,776.7L2120,781L2124.4,791L2127.8,804.4L2131,823.3L2133.3,829L2135,820L2136.7,828.4L2139.5,825.6L2141,833.8L2145.5,830L2149.3,822.2L2151.5,807.8L2156.7,795.6L2161,777.8L2162.2,742L2163.3,720L2164,709L2166.7,724.4L2170,722L2173,726L2176.7,716.7L2179,709L2180.7,733.3L2182.2,700L2184.4,633.3L2186.7,602L2190,595.6L2192.4,592L2193.2,519L2194.8,519L2195.6,592L2196.7,606.7L2198.2,637.8L2201,682L2205.5,711L2209,740L2211,764.4L2214.4,804.4L2217.3,822.7L2219,796.7L2220.4,807.8L2222.7,815.6L2224,786.7L2225.5,703L2227,720L2228.4,786.7L2230,844.4L2231.5,865.6L2234.4,853.3L2237.8,829L2241,826.7L2243.3,815.6L2244.4,786.7L2245.5,720L2246.5,666.7L2249,628L2252.2,655.6L2254.4,700L2256,721L2257.8,707.8L2260,705.6L2261.8,722.2L2263.3,740L2264.4,760L2266.2,784.4L2269,775.6L2270.7,809L2273.3,853.3L2276.7,893.3L2280.4,940L2282.2,941.8L2310.7,941.8" stroke="#000" stroke-width="5.5" fill="none" stroke-linejoin="round"/></g><rect x="1367.0" y="112.0" width="986.5" height="870.0" fill="none" stroke="#000" stroke-width="2.2"/><path d="M1444.2,982.0v9.8M1617.5,982.0v9.8M1790.8,982.0v9.8M1964.1,982.0v9.8M2137.4,982.0v9.8M2310.7,982.0v9.8M1367.0,942h-9.8M1367.0,799h-9.8M1367.0,656h-9.8M1367.0,513h-9.8M1367.0,370h-9.8M1367.0,227h-9.8" stroke="#000" stroke-width="2.2" fill="none"/><text x="1444.2" y="1022.5" font-size="28.1" text-anchor="middle">0</text><text x="1617.5" y="1022.5" font-size="28.1" text-anchor="middle">20</text><text x="1790.8" y="1022.5" font-size="28.1" text-anchor="middle">40</text><text x="1964.1" y="1022.5" font-size="28.1" text-anchor="middle">60</text><text x="2137.4" y="1022.5" font-size="28.1" text-anchor="middle">80</text><text x="2310.7" y="1022.5" font-size="28.1" text-anchor="middle">100</text><text x="1348.5" y="952.8" font-size="28.1" text-anchor="end">0.0</text><text x="1348.5" y="809.8" font-size="28.1" text-anchor="end">0.1</text><text x="1348.5" y="666.8" font-size="28.1" text-anchor="end">0.2</text><text x="1348.5" y="523.8" font-size="28.1" text-anchor="end">0.3</text><text x="1348.5" y="380.8" font-size="28.1" text-anchor="end">0.4</text><text x="1348.5" y="237.8" font-size="28.1" text-anchor="end">0.5</text><text x="1860" y="1062" font-size="28.1" text-anchor="middle">Frequency (meV)</text><text transform="translate(1285,548) rotate(-90)" font-size="28.1" text-anchor="middle">PJDOS (states/meV)</text><rect x="2014.5" y="133.5" width="327" height="158" rx="7" fill="#8c8c8c" stroke="#ababab" stroke-width="2.4"/><rect x="2009.7" y="128.7" width="326.5" height="157.5" rx="6.5" fill="#fff" stroke="#cccccc" stroke-width="2.4"/><path d="M2020.3,155.8H2091.6" stroke="#000080" stroke-width="5.5"/><path d="M2020.3,205.9H2091.6" stroke="#800000" stroke-width="5.5"/><path d="M2020.3,254.8H2091.6" stroke="#000" stroke-width="5.5"/><text x="2116.5" y="168" font-size="33.3">Mg</text><text x="2116.5" y="217" font-size="33.3">B</text><text x="2116.5" y="267" font-size="33.3">Total PHDOS</text></svg></body></html>
